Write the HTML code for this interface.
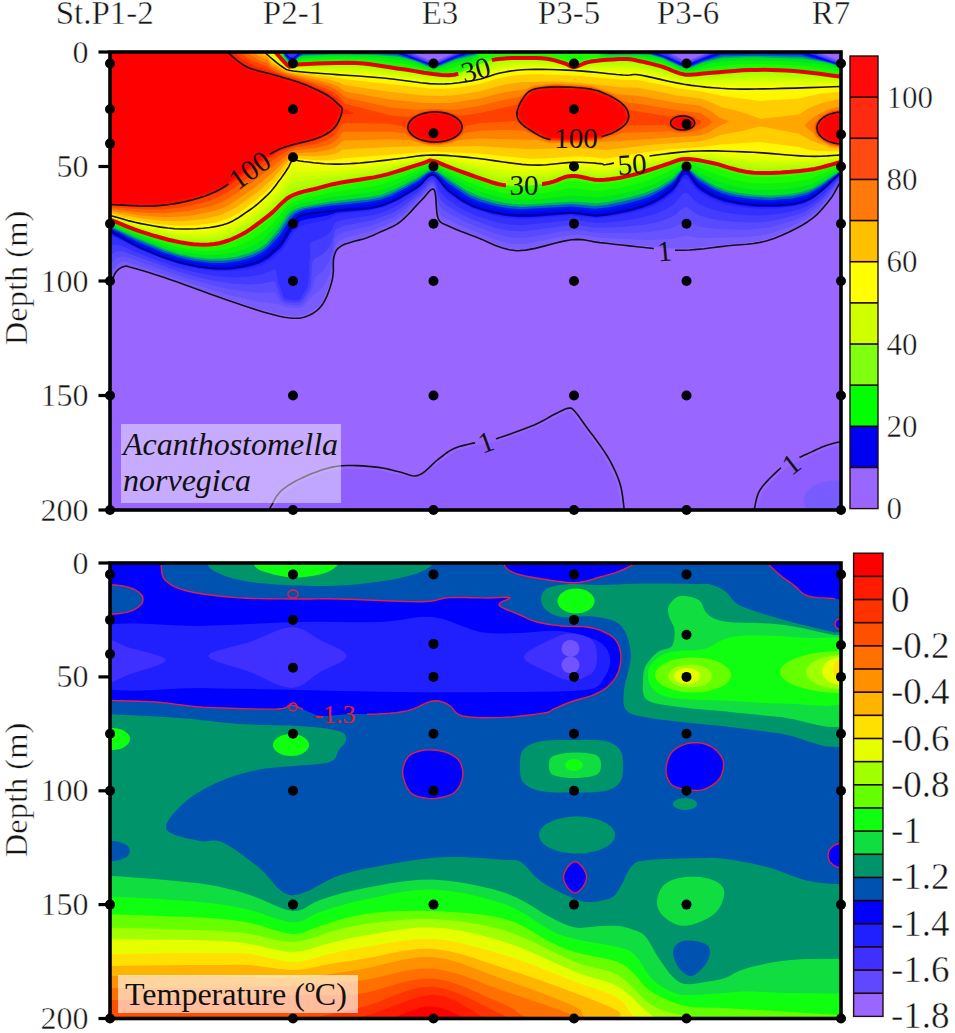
<!DOCTYPE html>
<html><head><meta charset="utf-8"><style>html,body{margin:0;padding:0;background:#fff;width:955px;height:1033px;overflow:hidden}</style></head><body>
<svg width="955" height="1033" viewBox="0 0 955 1033" style="position:absolute;left:0;top:0">
<defs><clipPath id="ct"><rect x="110" y="52" width="731" height="458"/></clipPath>
<clipPath id="cb"><rect x="110" y="563" width="731" height="455.5"/></clipPath></defs>
<g style="font-family:'Liberation Serif',serif;font-size:33px" fill="#151515" stroke="#fff" stroke-width="0.45">
<text x="104.7" y="23.5" text-anchor="middle">St.P1-2</text>
<text x="294" y="23.5" text-anchor="middle">P2-1</text>
<text x="440" y="23.5" text-anchor="middle">E3</text>
<text x="569" y="23.5" text-anchor="middle">P3-5</text>
<text x="688" y="23.5" text-anchor="middle">P3-6</text>
<text x="831" y="23.5" text-anchor="middle">R7</text>
</g>
<g clip-path="url(#ct)"><rect x="110" y="52" width="731" height="458" fill="#9966ff"/><path fill="#8e5eff" fill-rule="evenodd" d="M100 42L411.5 42 411.6 51 412.9 53 433 61.4 435.3 61 454 53 455.4 51 455.5 42 669.5 42 669.6 51 670.6 53 686 61.1 707 53 708.4 51 708.5 42 817.5 42 817.6 51 819 53 841.1 61 851 62.6 851 171.1 848 173 842 179 830.1 198 817 213.1 806.7 221 790.5 230 771 238 755 241.8 687 248.5 673 248.6 605.3 242 583 238.3 578 238.2 565 239.4 534.8 247 524 249 513 249 507 247.9 497.9 245 479 236.7 460.9 230 442 221.3 439 217.5 437.5 212 434.8 191 434 189 432 188.3 429 190.3 405 216 396.5 223 375.3 233 365 237 346 242.3 338 246.6 335.5 250 333.5 257 332.4 273 330 283.4 323 300.7 319 306 312.9 311 307.2 314 299 316.3 293 316.4 280 314.5 255.6 308 210.7 293 162 275.5 128 265.2 123 265.4 117 269 113.5 274 109 283 100 289.5ZM622.1 520L270 520 271 514.2 273 509 282.5 494 300 482 325.3 472 346 468.9 379 469.9 398 474.8 416 477.8 419 477.6 452.5 453 456.2 451 473.2 446 488 443.6 506 438.6 533 428.6 568 411.5 570 412 572.6 414 582 425.5 604 456.5 608 464 617 484.3 621 508.2ZM851 443L851 520 755 520 758 506.2 762 493.2 773 480.4 781.5 472 791 465 825.3 449Z"/><path fill="#785cff" fill-rule="evenodd" d="M100 42L411.5 42 411.6 51 412.9 53 433 61.4 435.3 61 454 53 455.4 51 455.5 42 669.5 42 669.6 51 670.6 53 686 61.1 707 53 708.4 51 708.5 42 817.5 42 817.6 51 819 53 841.1 61 851 62.6 851 171.1 848 173 842 179 830.1 198 817 213 806.7 221 790.5 230 770.9 238 755 241.8 687 248.4 673 248.6 605.5 242 583 238.3 578 238.2 565 239.4 534.7 247 524 249 513 249 507 247.9 498 245 479 236.7 461 230 442 221.3 439 217.5 437.5 212 434.8 191 434 189 432 188.3 429 190.3 405 216 396.5 223 375.3 233 365 237 346 242.3 338 246.6 335.5 250 333.5 257 332.4 273 330 283.3 323 300.7 319 306 312.8 311 307.1 314 299 316.2 293 316.4 280 314.4 255.7 308 210.8 293 162 275.5 128 265.2 123 265.4 117 268.9 113.5 274 109 282.9 100 289.4ZM805.1 494L812 486.6 822 482.1 829 480.7 840 480.6 851 482.9 851 517.1 841 519.4 829 519.4 822 517.9 814 514.6 807 509.3 805.1 507 803.6 500Z"/><path fill="#6753ff" fill-rule="evenodd" d="M100 42L410.9 42 411 51 412 53 433 62.5 435.6 62 454.9 53 455.9 51 456.1 42 668.9 42 669 51 670 53.3 686 62.2 707.9 53 708.9 51 709.1 42 816.9 42 817 51 819 53.8 840.7 62 851 63.6 851 170.5 847 173 841.1 179 831 194.8 821 206.7 814 213.3 807.3 218 792 225.8 774 232.4 760 235.7 743 237.2 704 238.1 697 237.7 686 235.8 670 239.3 644 239.9 601 237.7 583 235.1 575 234.7 563 236.2 528 243.6 518 244.3 510 243.6 497 240.1 466.5 228 454 222.4 442 215.9 440 213.7 438.5 210 435 189.3 434 187.4 432 186.6 429 188.5 406 212.4 396 220.2 372 230.7 346 237.7 338 241.7 336 244.2 334.4 249 330 273.4 325 284.1 320 290.3 312 296.5 305.1 305 302 307 299 307.7 293 307.8 284 306.7 277 303.7 257 301.4 231 295.4 202 286.8 126 261.5 122 261.9 117.5 264 109 275 100 279.8Z"/><path fill="#574aff" fill-rule="evenodd" d="M100 42L410.2 42 410.3 51 412 53.9 433 63.2 437.2 62 455 53.7 456.7 51 456.8 42 668.2 42 668.2 51 670 54.4 686 63 708 53.7 709.7 51 709.8 42 816.2 42 816.3 51 819 54.6 841 62.8 851 64.3 851 170 847.2 172 841.7 177 828 195.7 819 205.3 812 211.1 804 215.9 793 220.7 769 227.5 749 229.7 717 229 699 226.5 688 221.8 685 221.5 671.9 228 651 231.8 631 232.9 604 232.9 595 232.4 581 230.1 573 230 562 231.2 533 236.7 521 237.9 508 236.9 494 233.1 466 222.3 448 212.9 443 209.6 440 206.5 438 201.2 435.4 188 434 185 432 184.1 429 185.9 421 194.7 407 207.6 395 216.2 373 225.3 345 231.8 337.7 235 335 238.7 332 253.2 329 261.8 324 269.5 315 277.2 312.6 288 305 301 302 304 299 305.1 293 305.2 285 304.1 280.8 302 275 292.1 262 292.9 251 292.3 234 289.9 217 286.4 182 276.4 126 256.8 121 256.7 117 257.8 109 265.1 100 268.3Z"/><path fill="#443dff" fill-rule="evenodd" d="M100 42L286 42 286 50.2 287 51.4 292 52.3 298 51 298.5 42 401.5 42 402 50.6 409 51.9 413 55.4 433 63.8 436.4 63 454 55.1 458 51.7 463 50.6 463.5 42 653.5 42 654 50.5 667 52.3 671.6 57 686 63.7 707 55.1 711 51.7 716 50.6 716.5 42 805.5 42 806 50.6 814 51.6 819 55.4 840 63.1 851 64.8 851 169.5 847.5 171 842.5 175 826 194.8 819 201.8 812 207.3 805 211.4 797 214.7 777 219.9 764 221.9 753 222.5 738 222.1 721 220.6 710 218.5 699 215.2 695 213.1 688 207.7 685 207.1 682 208.5 675 215.1 670 217.8 658 221.9 644 224.8 624 226.8 601 227.8 593 227.4 580 225.3 571 225.2 522 231.6 509 230.8 496 227.9 473 219.8 459 213.1 447 205.7 441 200.5 438 194.8 435 183.7 434 182.2 432 181.4 429 183.1 420 192.7 408 202.8 400 208.7 393 212.7 373 220.3 345 225.5 337 228.5 335 230.8 331 244.2 328 248.9 323 254.1 315 258.5 313 260.6 312.1 264 310.5 286 308.2 291 302.6 300 300.3 302 298 302.7 286 301.7 283.7 301 281.8 299 276 284.3 274 280.9 261 283.7 249 284.4 232 283.4 214 280.8 197 276.9 177 271.1 123 251.4 117 251.3 110 254.9 100 256.7Z"/><path fill="#322fff" fill-rule="evenodd" d="M100 42L285 42 285.5 52 292 55.5 298 52.7 299.7 51 299.9 42 400.1 42 400.1 50 401 51.8 409 53.7 413 56.2 433 64.3 440 62 458 53.4 464 51.9 464.9 50 464.9 42 652.1 42 652.1 50 653 51.6 667 54.8 671.4 58 686 64.3 706 56.3 711 53.4 717 51.9 717.9 50 717.9 42 804.1 42 804.1 50 805.3 52 815 53.9 819 56.2 841 64 851 65.3 851 169 846.2 171 842.2 174 824 193.6 812 203.6 800 209.3 784 213.2 768 215.1 755 215.6 739 214.6 723 212.3 711 209 700 204.4 695.1 201 688 193.5 685 192.8 682 194.6 674 204.3 669 207.7 655.1 214 640 218.1 622 220.9 603 222.8 594 222.8 580 220.6 571 220.3 522 225.2 509 224.5 496 221.9 478 216.3 466 211.2 455 204.7 445 197.5 439 190.4 435 180.5 433 178.9 431 179 428 181.1 417 192.3 396 206.6 385 211.5 374 215 344 219.5 337.9 221 335 222.9 331 231.2 327 235 321 238.6 311 241.9 309.9 245 310.3 256 309.3 262 309.2 275 307.4 287 300.8 298 299 299.7 294 300.2 286 299 283.7 297 277.9 281 276.3 271 275 269.1 262 274.3 250 276.6 233 277.4 215 276 195 272.2 174 266.5 149 257.4 120 245.3 116 244.6 110 245.4 100 245.2Z"/><path fill="#2625ff" fill-rule="evenodd" d="M100 42L284.6 42 285 52.4 290 57 292 57.7 300.1 52 300.7 42 399.3 42 399.3 50 400 52 433 64.8 436.6 64 465 52.1 465.7 50 465.7 42 651.3 42 651.3 50 652.2 52 667 56.5 686 64.9 711 54.6 717 52.9 718.6 51 718.7 42 803.3 42 803.4 51 805 52.8 815 55.2 840 64.2 851 65.7 851 168.5 846.7 170 840.9 174 823 191.3 813 199.2 804 203.7 793 206.7 778 208.4 758 208.8 741 207.3 725 204.3 712.5 200 700 193.2 695.2 189 688 179.4 685 178.4 682 180.7 676 190.3 672 194.8 663.2 201 654 205.9 643 210 629 213.5 612 216.6 597 218.2 571 215.4 533 218.5 518 218.9 504 217.5 491 214.8 473 209 459 201.4 446.3 192 440.2 185 435.6 178 432 176.3 428.5 178 421 185.9 415 190.6 399 200.5 386 206.6 370 210.8 337 214.3 334 215.6 331 218.2 326 220.2 305 224.6 300 226.3 294 231.8 284.4 247 280.3 252 270 260.4 261 265.4 248 269.2 233 271.2 218 271.3 202 269.5 183 265.4 167 260.6 141 250.2 116 237.7 106 234.5 100 233.7Z"/><path fill="#0001eb" fill-rule="evenodd" d="M100 42L284.5 42 285 52.7 289.5 57 292 58.1 294 57.3 300.4 52 300.9 42 399.1 42 399.1 50 400 52.3 433 64.9 436.9 64 465 52.3 465.9 50 465.9 42 651.1 42 651.1 50 652 52.1 666 56.4 686 65 718 52.4 718.9 50 718.9 42 803.1 42 803.2 51 805 53 815 55.6 840 64.3 851 65.8 851 168.4 846.4 170 841.8 173 823 190.5 813 198.3 804 202.7 794 205.3 779 206.9 757 206.9 741 205.3 724 201.8 711 196.7 700 190.2 695 185.5 688 175.6 685 174.4 682 177.2 676 187.2 672 191.8 663 198.5 654 203.6 644 207.6 630 211.5 611 215.3 597 216.9 571 214.1 533 216.9 518 217.2 504 215.8 491 213.3 473 207.6 461 201.2 447 191 436 177.6 434 176.1 432 175.7 428.9 177 420 186.1 412 191.7 397 200.4 383 206.5 368 209.7 337 212.4 327 215.7 305 219.4 300 221.2 294 226.9 283.6 244 279.6 249 269 258.2 259 263.8 246 267.6 230 269.8 215 269.8 198 267.7 179 263.5 161 257.5 139 248.4 109.5 233 100 230.5Z"/><path fill="#000aee" fill-rule="evenodd" d="M100 42L284.1 42 284.2 51 285 53.5 289 57.7 292 59.2 294 58.3 301.1 52 301.8 50 301.8 42 398.2 42 398.3 51 399.9 53 433 65.3 437 64.4 465 53.1 466.7 51 466.8 42 650.2 42 650.2 50 652 52.7 664 56.4 686 65.5 718 53.3 719.7 51 719.8 42 802.2 42 802.3 51 805 53.8 841 65 851 66.1 851 168 847 169.2 842.2 172 820 191.2 809 198.4 795 202.6 775 204.3 761 204.2 745 202.8 732 200.5 721 197.4 710 192.4 699 185.4 694.6 181 688.1 172 685 170.8 682 173.6 676.2 183 672 187.8 663 194.6 653 200.4 641 205.2 626 209.3 609 212.7 596 214.2 571 211.5 519 214.2 507 213.2 491 210.4 475 205.5 463 199.5 447 187.8 436.2 176 432 174.4 428.3 176 420 184.2 412 189.5 396 198.5 382 204.3 367 207.1 341 208.9 307 213.3 300.7 215 297 217.5 293.9 221 289 228.1 282.3 240 277 246.3 267 255.3 256 261.2 241 265.4 227 267.3 214 267.3 198 265.5 179 261.4 158 254.3 137 245.3 109.3 230 104.5 228 100 227.2Z"/><path fill="#0014f0" fill-rule="evenodd" d="M100 42L283.8 42 283.8 51 284.8 54 289 58.9 292 60.3 294 59.4 302 52.6 304 52.1 396 52.3 433 65.8 439 64.3 468 52.5 476 51.6 476.7 50 476.7 42 601.3 42 601.3 50 602 51.3 649 51.9 665 57.5 686 66.2 716 55.4 721 52.8 801 52.8 806 55.2 830 61.8 840 65.2 851 66.6 851 167.4 846.1 169 841.1 172 820 189.3 808 196.6 793 200.6 773 202 759 201.8 745 200.5 732 198.2 721 195.1 711 190.5 700 183.7 696 180.3 688.5 171 685 169.7 681.9 172 676 180.9 672 185.3 662 192.6 652 198.1 641 202.4 626 206.5 608 210.1 596 211.4 571 209 520 211.7 507 210.6 493 208.1 478 203.8 467 198.9 448 185.9 437 175 434 173.3 431 173.2 428 174.7 420 182.1 415 185.4 396 196 382 201.7 368 204.5 327 208.4 306 211.4 300 213.2 296 215.8 292.1 220 281 237.5 273 246.6 264 254.2 255 258.8 242 262.7 227 265 213 265.1 197 263.3 178 259.2 160 253.1 137 243.3 108.1 228 100 225.8Z"/><path fill="#005ac8" fill-rule="evenodd" d="M100 42L283.5 42 283.5 51 284.7 55 289 59.9 292 61.3 300 54.9 304 53.6 346 52.9 387 53.4 398 54.1 433 66.3 438 65.3 454 58.8 467 54.4 476 53.1 477.5 51 477.6 42 600.4 42 600.6 51 602 52.5 611 53.2 650 53.3 664 57.7 680 64.9 686 66.8 691 65.8 703 60.7 721 54.8 750 54.2 801 54.8 829 62 841 66 851 67 851 166.8 846 168.4 841.5 171 820 187.6 808 194.4 792 198.4 771 199.9 758 199.6 745 198.3 732 196 722 193.2 712 188.7 700 181.5 696 178.3 689 170.3 685 168.9 681.8 171 675 180.2 671 184 661 190.7 651 195.9 640 200 624 204.2 607 207.5 595 208.8 571 206.5 521 209.3 508 208.3 495 206 480 201.8 469 197.2 448 183.2 437 173.5 434 172.1 431 172 427.1 174 418 181.5 392 195.4 381 199.6 368 202.1 329 206 306 209.6 299 211.7 295 214.2 290 219.2 279.9 235 270 246.1 262 252.6 253 256.9 239 260.9 225 262.9 211 262.9 195 261 178 257.3 162 251.9 137 241.5 109 227.3 100 224.8Z"/><path fill="#00aa6e" fill-rule="evenodd" d="M100 42L283.2 42 283.2 51 284.3 55 288 60 292 62.2 299 56.5 304 54.7 335 53.9 378 54.2 398 55.4 414 60 428 65.7 433 66.9 440 65.4 456 58.8 476 54.1 478.1 51 478.2 42 599.8 42 599.9 51 602 53.3 611 54.1 636 53.6 650 54.2 663.4 58 680 65.7 686 67.5 692 66.3 705 61 722 56.6 754 55.7 802 56.8 826.6 62 841 66.6 851 67.6 851 166.2 843 169.4 820 185.8 808 192.2 792 196.1 770 197.7 746 196.2 733 194 723 191.3 715 188 697 177.2 689 169.3 685 168.2 681.7 170 675 178.3 671 181.7 660 188.7 650 193.7 639 197.5 623 201.6 606 204.9 595 206.1 571 204.1 522 206.9 510 206 497 203.9 482 199.8 470 195 448 180.6 438 172.7 434 170.9 431 170.9 427 172.7 418 179.4 402 188.1 390 193.9 381 197.2 368 199.7 330 203.7 305 208 298 210.1 293.1 213 288.8 217 279 232.2 267.8 245 261 250.4 252 254.7 238 258.7 224 260.8 210 260.8 195 259 179 255.6 165 251.1 137 239.6 109 226.2 100 223.7Z"/><path fill="#00e61e" fill-rule="evenodd" d="M100 42L282.9 42 282.9 51 284 55.6 287 59.9 291 62.9 293 62.7 300 56.8 305 55.8 331 54.8 372.7 55 398 56.8 414.7 61 428 66.4 433 67.6 440 66.2 455.4 60 476 55.2 478.4 52 478.6 42 599.4 42 599.7 52 602 54.1 611 55 636 54.4 650 55.1 661.6 58 680 66.6 686 68.3 691 67.7 702.1 63 721 58.6 732 57.7 755 57.2 802 58.7 817.7 61 831.4 64 841 67.3 851 68.2 851 165.5 842 169.2 823 182.1 812 188.3 801 192 788 194.3 772 195.4 757 195.1 740 193.1 727 190.3 718 187.1 710 183 697 175.1 689 168.3 686 167.3 682 168.7 672 178.8 657 187.7 644.5 193 626 198.1 609 201.7 597 203.3 571 201.6 526 204.4 515 204 503 202.5 491.8 200 478.9 196 466 190 438 171.2 434 169.7 431 169.7 428 170.7 418 177.3 399.5 187 381 194.7 369 197.1 330 201.6 303 206.5 295.3 209 291 211.5 287.3 215 278 229.6 266.6 243 259 248.7 249.3 253 235 256.9 223 258.6 210 258.7 194 256.9 180 254 166 249.6 136 237.4 109 225.1 100 222.7Z"/><path fill="#0cf20c" fill-rule="evenodd" d="M100 42L282.2 42 282.3 52 283.8 57 287.7 62 291 63.9 294 63.1 299 59 306 57.7 334 56.6 366 56.8 385 58 403 60.4 414.9 63 427 67.6 433 68.9 441 67.8 454.9 63 471 59.5 476 57.5 479.3 52 479.4 42 598.6 42 598.8 52 600 54.2 602 55.5 611 56.2 636 55.8 653 57.4 663.2 60 679 67.7 686 69.8 691 69.4 707.7 64 724 61.6 740 60.5 792 61.3 826.9 65 842 69.2 851 69.9 851 164.3 842 167.7 822 179.1 812 183.7 801 186.9 787 189.1 773 190.1 759 190 746 188.7 733 186.3 716 180.8 698 171.8 690 166.8 686 165.6 682 166.7 671 175.3 653 184.4 639 189.3 619 194.3 598 197.5 571 195.5 541 198.9 524 199.8 513 199.3 503 198 481 192.1 467 186.1 439 169.3 435 167.8 431 167.5 428 168.4 397 183.9 381 190 368 192.6 331 197.2 302 203.1 294 205.6 287 210.3 277 224.7 265 238.1 256.4 244 244 249.5 231 253.1 219 254.8 206 254.9 191 253.1 178 250.4 165 246.3 137 235.6 109 223.5 100 221.2Z"/><path fill="#1cfb00" fill-rule="evenodd" d="M100 42L280.9 42 280.9 51 283.3 58 286 61.7 290 64.7 293 64.5 299 61 306 60.1 335 59 361 59.1 378 60.4 401 63.4 414 65.8 429 70.1 435 70.8 442 70.2 452.2 68 476 60.6 478 58.6 481 52 484 48 484 42 594 42 594 48 601 56.9 608 57.5 632 57.1 651 59.5 663 62.5 679 69.7 686 71.5 691 71.4 704 68 723 65.5 741 64.2 760 63.9 804 65.8 827 68.7 842 71.9 851 72.5 851 162.8 842 165.5 821 175.1 809 179.2 789 182.5 767 183.7 750 182.9 733 179.7 717 174.8 690 163.9 685 163.2 681 164.5 669 171.6 651 179.3 635 184.4 617 188.5 597 190.9 577 188.4 570 188.3 545 192.9 522 194.6 505 193.5 486 188.7 468 181.9 438 166.5 434 165.2 430 165.1 398 178.8 381 184.7 369 187.1 333 192.1 302 199 294 201.5 287 206 273 222.9 263 232.3 250.9 240 237 246.1 226 249.3 215 250.8 203 250.9 189 249.4 176 246.7 162 242.5 136 233.2 109 221.9 100 219.7Z"/><path fill="#35fe00" fill-rule="evenodd" d="M100 42L279.1 42 279.2 51 280 54.5 284 61.1 290 65.7 293 65.4 298 63.2 337 61.4 359 61.5 374 62.9 400 66.6 429 72.1 437 73 449 72.6 459 70.6 477 63.3 481 59.2 488 57.5 502 56 527 55.5 551 56.5 573 60.9 596 57.3 602 59.1 633 58.8 659 64 679 71.8 687 73.5 733 68.5 766 67.5 799 69 842 74.8 851 75.2 851 161.2 842.5 163 821 170.5 809 173.6 787 176.3 764 177.3 752 176.8 741 175.1 693 161.7 685 160.7 680 161.8 668 167.1 644 175.7 616 182.6 597 184.3 578 181.2 571 180.9 565 181.8 553 185.7 545 187.3 531 189.1 518 189.5 505 188.6 490 185 469 177.6 437.8 164 430 162.5 398 174.2 382 179.1 335 186.9 295 197 286.5 202 271 218.1 258 228.6 244.5 237 230 243.2 220 245.9 210 247.1 199 247 186 245.5 173 242.9 156 238 135.3 231 109 220.3 100 218.2Z"/><path fill="#a1ff00" fill-rule="evenodd" d="M100 42L278.5 42 278.6 52 280 56.9 284.8 63 290 66.4 302 64.3 336 63.1 357 63.3 374.6 65 429 73.6 442 74.9 451 74.8 458 73.5 482 63.2 493 59.9 506 58.3 526 57.9 542 58.3 551 59.3 574 65.9 588 61.8 596 60.7 631.1 60 655.3 65 679 73.4 687 74.9 740 70.7 768 70.1 796 71.3 841 76.6 851 77 851 160.2 841 161.9 822 167.4 811 169.7 786 172.2 764 173.1 745 171.6 706.4 162 692 159.5 684 159.2 679 160.1 638 173.6 615 178.8 598 180.1 577 176.5 571 176.3 566 177.1 553 181.8 545 183.6 531 185.5 516 186.1 504 185.1 491.4 182 437 162.2 430 160.9 382 175.7 335 183.6 295 193.8 286 199.1 270 214.4 253 227.5 241 234.8 227 240.9 218 243.3 208 244.4 197 244.3 184 242.8 169.9 240 151.9 235 134 229.2 108.1 219 100 217.3Z"/><path fill="#b4ff00" fill-rule="evenodd" d="M100 42L277.9 42 278 52 279.5 58 284.7 64 290 67.2 300 65.9 339 65.3 359 65.8 443 76.8 451 76.7 458 75.6 486 65 496 62.3 511 60.7 529 60.2 551 61.5 574 67.4 594 63.3 617 62.3 632 62.6 653.4 67 679 75.2 688 76.8 745 74 771 73.7 798 74.7 841 78.6 851 78.8 851 159.1 842 160.3 821 165.2 810 167 787 168.6 765 169 746 167.8 709 160 694 157.9 684 157.7 677 159 634 171.5 612 176 597 176.6 578 173.6 571 173.3 565 174.3 546 179.7 533 181.3 520 181.7 508 181.2 496 178.9 438 161 430 159.6 380 173 335 179.8 294 187.7 287 192.9 272 208.2 259 218.9 246 228.1 233.1 235 222 239 210 241 196 241.3 180 239.6 165 236.6 144 230.9 110 218.7 100 216.4Z"/><path fill="#c5ff00" fill-rule="evenodd" d="M100 42L277.2 42 277.3 52 279 58.4 282.6 63 289 67.6 325 66.9 360 67.8 441 78.1 450 78.1 458 77 489 66.3 498 64.1 514 62.4 531 61.9 551 63 574 68.1 594 65 634 65 657 69.9 680 77 689 78.4 775 76.5 851 80.2 851 158.3 841 159.4 811 164.9 770 166.1 748 165.1 711 158.6 695 156.7 685 156.5 677 157.7 632 169.7 610 173.9 598 174.2 578 171.4 571 171.2 548 176.6 526 178.5 511 178 499 176.2 438 159.9 429 158.9 377 171.3 294 182.4 291 184.4 271.8 205 262 213.5 247 224.5 233 232.4 222 236.4 209 238.6 194 238.8 177 237.2 161 234 142 229.1 109.7 218 100 215.8Z"/><path fill="#d5ff00" fill-rule="evenodd" d="M100 42L273.5 42 273.5 48 276 51.6 279 60 283.9 65 289 68.2 361 69.8 439 79.3 449 79.5 458 78.4 499 66.1 515 64.2 533 63.7 552 64.6 574 68.7 593 66.7 635 67.3 655 71.4 680 78.5 690 80 782 79.4 851 81.5 851 157.6 841 158.4 812 162.9 781 163.4 750 162.2 710 156.7 695 155.4 685 155.4 677 156.5 630 167.8 608 171.9 604 172.2 572 169.2 548 173.8 528 175.3 514 174.8 502 173.3 439.1 159 429 158 391 166.4 371 169.9 320 175.4 294 177.1 291 179.3 273 200.4 264 208.7 249 220.3 233 229.7 221 234 208 236.1 192 236.5 174 234.8 141 227.6 110 217.4 100 215.2Z"/><path fill="#e4ff00" fill-rule="evenodd" d="M100 42L269.7 42 269.7 51 270.4 53 276 55.4 280 62.7 286 67.4 289 68.9 364 71.9 438 80.7 449 80.7 459 79.5 494 69.4 502 67.7 518 65.8 535 65.4 553 66.2 574 69.4 591 68.3 635 69.5 651 72.5 680 80.1 693 81.7 723 82.6 789 82.1 851 82.9 851 156.8 816 160.6 795 161.1 753 159.4 712 155.1 687 154.2 676 155.5 607 169.7 572 167.1 548 171 530 172.2 504 170.2 442 158.3 430 157 385 165.4 362 168.6 324 171.6 294 171.9 291 174.2 273.8 196 265.8 204 251 216 233 227 221 231.4 207 233.7 189 234.1 170 232.4 139 225.9 109 216.5 100 214.5Z"/><path fill="#f3ff00" fill-rule="evenodd" d="M100 42L268.9 42 269 51 270 54.5 276 58.4 280.2 64 286 68.3 289 69.6 368 74.2 436 82 449 82.1 460 80.8 479 76.5 496.3 71 508 68.8 521 67.5 537 67.1 555 67.9 574 70.1 589 69.8 624 71.8 636 71.7 648 73.8 683 82.2 710 84.6 740 85.4 851 84.3 851 155.9 818 158.7 803 159 749 156.1 714 153.4 689 152.9 679 153.8 656 157.6 606 167.5 573 165.1 547 168.3 532 169.1 509 167.4 455 158.7 430 156.1 379 164.1 351 167.1 323 168.2 294 166.6 292 167.9 274.3 192 267 199.7 252 212.3 233 224.3 221 228.8 205 231.4 185 231.8 166 230 137 224.2 109 215.8 100 213.9Z"/><path fill="#fff700" fill-rule="evenodd" d="M100 42L268.3 42 268.4 52 270 56.5 279.8 65 286 69.2 289 70.4 375.7 77 433 83.7 448 83.8 460 82.6 480 78.6 497.8 73 508.2 71 521 69.6 538 69.1 591 71.7 624 74.4 636 74.1 685 84.3 721 87.7 752 88.3 851 86 851 154.7 808 156.7 725 151.7 691 151.3 677 152.5 654 155.8 606 165 588 163.2 574 162.7 536 166 518.3 165 470 158.3 432 154.8 422 155.5 366.9 163 344 164.7 321 164.6 294 161.4 292 162.8 286 172.5 275 187.4 267.3 196 252.3 209 232 222 220 226.3 203 229 182 229.5 164.9 228 137.6 223 108 214.6 100 213.1Z"/><path fill="#ffcd00" fill-rule="evenodd" d="M100 42L264 42 264.3 51 265 51.9 267 50.7 271 60 283 68.5 289 71.3 331 76.5 345 79.2 430 88.5 444 88.8 459 87.6 479 84.2 497 78.7 510 76.1 523 74.7 540 74.3 578 75.8 624 80 638 80 678 88.2 702 91.6 721 95.8 760 100.9 799 98.5 821 93.6 851 91 851 151.8 818 151.1 809 149.7 799 147 760 142.1 721 144.5 702 146.9 667 149.6 649 151.7 605 158.8 591 157.1 576 156.5 544 158.6 530 158.7 479 153.5 433 151.5 343 158.2 330 160.4 313 160 294 157.9 292 159.1 286 168.2 275 182.4 266 191.9 252 203.6 238.4 213 230 217.7 216 222.5 197 225.2 177 225.8 155 223.8 133.5 220 100 212Z"/><path fill="#ffa600" fill-rule="evenodd" d="M100 42L258 42 258 50 258.7 52 264 55.4 267 55.3 271 62.3 288 72.2 330 79.8 339 82.4 345 85.3 391 91.9 424 95.4 442 96.1 459 94.8 480 91.3 503 84.9 520 82.3 553 81.6 580 82.8 620 87.2 638 87.8 677 95.4 700 98.5 710.3 102 721 107.1 741.3 112 761 118.9 799 114.4 810 107.6 821 103.3 840 98.9 851 98.4 851 148.3 838 148.4 831 147.4 811.8 141 799 133.7 760 126.2 743 130.7 721 134.8 711 138.6 701 141.2 654 144.6 607 150.1 576 147.8 530 149.3 476 145.9 441 146.9 420 146.2 390 146.9 343 149.4 336 153.4 327 155.4 314 156.2 293 155.6 273 178.6 259 191.1 236 207.5 221 214.9 204 219 182 221.3 164 221 143 218.7 100 210.6Z"/><path fill="#ff8100" fill-rule="evenodd" d="M100 209.1L100 42 252 42 252.2 51 253.6 53 264 58.8 267 58.7 271 64.7 286 72.8 329.2 83 338 86.4 345 91.4 391 99.8 424 102.9 450 103 480 98.5 504 92.2 526 89.2 531 86.6 536 85.5 554 83.6 580 84.7 592 86 617 94.3 638 95.7 676 102.7 700 105.7 710.8 111 720 117.9 728.2 121 728.8 122 720 125.4 709 132.2 700 135.5 619 140.9 590 142 578 143.6 548 142.7 538 140 482 138.4 461 139.7 448 144.1 440 145.3 429 145.2 410 140.3 391 139.2 343 140.6 336 147 328 150.1 315 152.2 293 153 272 173.3 253 188.7 229 204.9 221 208.7 212 211.6 189 215.9 165 217.2 140 215.2ZM851 146.9L837 147 831 145.9 824 142.7 815.9 137 813 132.9 805.9 127 804.9 125 805.4 124 815 116.1 829 109.3 841 106.1 851 105.8Z"/><path fill="#ff6000" fill-rule="evenodd" d="M100 207.8L100 42 246 42 246.1 51 247.4 53 258 59.5 265 62.5 267 62.3 271 67 283.2 73 329 86.3 338.3 91 345 97.5 391 107.6 418 110 431 108.8 441 108.9 450 110 457 109.4 480 105.8 502 100.2 519 97.1 523 94.8 530 88.7 536 86.7 553 84.7 562 84.7 566 85.5 580 85.7 592 87.1 612 94.3 626 102.4 639 103.7 677 110.2 700 112.9 708.4 118 712.2 122 709.2 125 701.9 129 687 132.8 679 132.8 670 131.2 622 132.9 601 139.4 577 142.4 563 142.4 559 141.5 548 141.3 525 131 522 130.4 504 130 481 130.7 466 132.6 457.2 139 452 141.6 440 144.3 430 144.3 424 143.2 412 138.3 405 133.5 392 131.7 343 131.8 336 140.5 328 145 315.9 148 294 150.2 292 150.9 258 177.9 235 194.3 223 201.5 211 206.1 187 211.3 164 213.3 142 212.4ZM815.5 122L822 115.4 831 110.8 838 109.3 851 109.6 851 145.9 837 146.1 831 144.9 823 140.9 817 136.2 815.6 134 814 127Z"/><path fill="#ff4100" fill-rule="evenodd" d="M100 206.7L100 42 240 42 240.5 52 246 56.8 254 61.5 264 65.5 267 65.9 271 69.4 285 75.2 310 82.5 328 89.2 338 95.2 345 103.7 391 115.5 409 116.9 423 111.7 431 110.3 441 110.3 447 111.4 460 116.1 480 113.1 516 105 521.6 98 532 88.7 553 85.5 561 85.5 566 86.4 580 86.5 594 88.6 612.9 96 626 105.4 630 110.3 670 116.6 679 114.2 687 114.3 693 116.5 697 119.3 701 120.7 701.9 122 701 123.2 698 124.5 693 129.2 686 131.6 680 131.6 676 130.6 671 128.3 667 125.1 628 125.4 625 126.5 617 132.3 601 138.4 576 141.5 564 141.5 559 140.6 548 140.3 530 131.7 515 121.1 481 123 466 125.9 465 126.7 462.1 133 456.9 138 448 142 439 143.5 430 143.5 419 140.5 410.8 136 407.9 133 405 127.3 403 126.3 389 123.7 344 122.9 342 123.7 336 134.1 330 138.8 317 143.7 294 147.8 290.7 149 274.5 159 229 191.5 220 196.6 210 200.7 186 206.7 163 209.4 146 209.5ZM817 122L823 116.1 832 111.6 839 110.4 851 110.9 851 144.9 837 145.3 831 144 823.2 140 816.7 134 815.3 127Z"/><path fill="#ff2300" fill-rule="evenodd" d="M100 205.7L100 42 234 42 234.4 52 239 56.7 246.6 62 255 66 267 69.4 277.5 74 304 82.3 325 90.9 332 94.9 338 99.6 344 109.1 353.6 113 353.4 114 345 114.1 343 114.7 336 128.3 328 134.7 316 140.5 294 146.1 280.1 151 248.9 171 223 189.9 210 195.5 187 202.5 156 207.2ZM515.2 113L521.5 100 531.5 90 537 88.4 553 86.4 561 86.4 566 87.3 579 87.4 590 88.4 610.9 96 625.8 107 629.9 118 628.5 121 618.7 130 601 137.4 578 140.6 564 140.6 559 139.7 548 139.3 530 130.5 520.1 123ZM407.1 125L408.7 121 412.1 118 420 113.9 430 111.4 440 111.3 447 112.6 456 116.4 461.6 121 462.9 127 460.7 133 456.6 137 451 140 441 142.5 431 142.6 421 140.4 412.4 136 408.6 132 407.2 128ZM818 122.4L823.4 117 832 112.6 839 111.4 851 112 851 143.9 838 144.5 831.1 143 824 139.4 817.7 134 816.3 128ZM669.8 122L670.7 120 675 116.8 680 115.3 685 115.3 692 117.5 694.6 120 695.9 123 694 126.8 691 129 686 130.6 681 130.7 676 129.4 672 127.4 670.3 125Z"/><path fill="#ff0a00" fill-rule="evenodd" d="M100 204.5L100 42 229.7 42 230 53.1 232.5 56 245 65.3 256 69.5 301.1 83 323.2 93 329.7 97 338 103.8 341 109.2 341.3 112 335 126 328 131.5 316 138.3 279 149.4 250 167.6 222 188.2 218 190.3 186 200.6 156 205.5ZM517.6 113L523 100.1 532.2 91 537 89.7 553 87.7 561 87.6 565 88.5 579 88.6 590 89.7 610.2 97 624.9 108 627.4 119 617.9 129 601 136.1 577 139.4 564 139.4 560 138.5 548 138.1 531.8 130 521 122ZM408.6 126L410 122.2 413.2 119 420.8 115 430 112.7 439 112.5 447.3 114 455 117.4 460 122 461.5 127 459.1 133 455.9 136 447 140.1 441 141.3 432 141.5 423.7 140 413.1 135 410 131.8ZM819 123.2L824.1 118 832 113.9 839 112.6 847 112.6 851 113.4 851 142.6 847 143.4 838 143.3 832 142.1 824.1 138 818.7 133 817.6 128ZM671.6 122L673 119.9 676 117.9 680 116.7 685 116.6 691 118.6 693.4 121 694.2 123 693 126 690.2 128 686 129.3 681 129.4 676 128.1 673 126.4 671.9 125Z"/><path fill="#ff0000" fill-rule="evenodd" d="M100 202.9L100 42 228.9 42 229 53 230 56.7 244 67.7 248 69.7 303 85.8 327 98.4 335.7 105 338.7 110 338.6 113 333.1 125 327 129.6 315 136.5 281 146.3 277 148.2 247 167.2 221 186.5 217 188.6 189 197.8 155 203.8ZM519.8 113L524 101.8 533 92.6 538 91.2 560 89.1 565 90.1 578 90.1 589 91.2 610 98.9 623.3 109 625.1 118 624 120.6 616.2 128 600 134.5 576 137.9 565 137.9 560 136.9 549 136.5 531.8 128 522.6 121ZM410.4 127L412 123 416.7 119 425 115.5 435 114.1 445 115.2 452.3 118 458.3 123 459.6 127 458.4 131 454 135.1 446 138.5 436 139.9 425 138.5 416.7 135 412 131.5ZM820.6 124L825 119.5 833 115.5 841 114.1 851 115 851 141 846 141.9 839 141.8 833 140.5 825.8 137 820.4 132 819.4 128ZM673.4 123L676 119.9 683 118.1 689 119.5 692.1 123 691.4 125 690 126.1 683 127.9 675.8 126 674 124.6Z"/><mask id="tmr" maskUnits="userSpaceOnUse" x="0" y="0" width="955" height="1033"><rect x="0" y="0" width="955" height="1033" fill="#fff"/><rect x="457.5" y="56.5" width="36" height="24" transform="rotate(-15 475.5 68.5)" fill="#000"/><rect x="506" y="171.5" width="36" height="24" transform="rotate(0 524 183.5)" fill="#000"/></mask><mask id="tmb" maskUnits="userSpaceOnUse" x="0" y="0" width="955" height="1033"><rect x="0" y="0" width="955" height="1033" fill="#fff"/><rect x="223.5" y="157" width="51" height="24" transform="rotate(-36 249 169)" fill="#000"/><rect x="550.5" y="125" width="51" height="24" transform="rotate(0 576 137)" fill="#000"/><rect x="614" y="151" width="36" height="24" transform="rotate(-4 632 163)" fill="#000"/><rect x="654" y="238" width="21" height="24" transform="rotate(-5 664.5 250)" fill="#000"/><rect x="475" y="429" width="21" height="24" transform="rotate(-20 485.5 441)" fill="#000"/><rect x="780" y="451" width="21" height="24" transform="rotate(-38 790.5 463)" fill="#000"/></mask><g fill="none" stroke-linejoin="round" stroke-linecap="round"><g mask="url(#tmr)" stroke="#e80000" stroke-width="4"><path d="M272 48L272.5 48.6 273 49.2 273.4 49.7 273.9 50.4 274.7 51.2 275.8 52.5 277.4 54.4 279.5 56.8 281.8 59.4 284.2 62 286.3 64.2 288 65.7 289.2 66.5 290.1 66.7 290.7 66.5 291.3 66.1 292 65.7 293 65.5 293.7 65.4 293.9 65.2 294.3 65 295.3 64.7 297.6 64.5 301.7 64.3 308.3 64 316.9 63.6 326.8 63.2 337.2 62.9 347.2 62.8 356 63 363.5 63.5 370.3 64.3 376.7 65.2 383 66.2 389.7 67.3 397 68.4 405.3 69.6 414.5 71.1 423.9 72.7 433.1 74 441.5 74.9 448.7 75.2 454.3 74.7 458.8 73.6 462.5 72 465.9 70.3 469.2 68.5 473 67 476.9 65.6 480.6 64 484.3 62.5 488.3 61.1 492.7 59.9 498 59 504.5 58.4 512 58 520 57.9 528.1 57.9 535.5 58 541.7 58.3 546.7 58.8 551 59.5 554.7 60.4 557.9 61.3 560.8 62.2 563.5 63 565.9 63.8 567.7 64.7 569.2 65.6 570.7 66.4 572.3 66.9 574.3 67 576.5 66.6 578.7 65.8 581.1 64.7 583.8 63.5 587 62.4 590.7 61.6 595.4 60.9 601 60.3 607 59.8 613.1 59.4 618.7 59.1 623.4 59 627 59.1 629.9 59.3 632.4 59.6 634.7 60 637.1 60.6 640 61.2 643.4 61.9 646.9 62.7 650.7 63.6 654.5 64.6 658.3 65.6 662 66.7 665.7 68 669.3 69.4 673 71 676.7 72.4 680.3 73.6 684 74.4 687.4 74.8 690.5 74.8 693.6 74.5 697 74.2 701.1 73.7 706 73.3 712.1 72.8 719 72.2 726.6 71.5 734.5 70.9 742.4 70.3 750 70 757.3 69.9 764.6 69.8 771.8 69.9 779.1 70.2 786.5 70.5 794 71 802.1 71.7 810.8 72.7 819.6 73.8 828 74.9 835.3 75.9 841 76.6 844.8 77 847.1 77.1 848.3 77.1 849 77.1 849.8 77 851 77"/><path d="M100 217L101.4 217.3 102.6 217.5 103.7 217.6 105.1 217.9 107.1 218.5 110 219.5 113.8 221 118.4 222.9 123.6 225.1 129.2 227.4 135 229.6 141 231.7 147.3 233.7 154.1 235.8 161.3 237.8 168.4 239.7 175.3 241.3 181.7 242.6 187.7 243.5 193.4 244.2 198.8 244.6 204.1 244.7 209.3 244.5 214.3 244 219.2 243.2 223.8 242 228.3 240.5 232.7 238.8 237.1 236.8 241.6 234.5 246.2 231.9 250.9 228.8 255.5 225.5 260.1 222.1 264.6 218.7 268.8 215.4 272.7 212.1 276.3 208.6 279.7 205.2 283.1 201.9 286.7 198.8 290.6 196.3 294.9 194.3 299.5 192.7 304.2 191.4 308.9 190.3 313.5 189.3 317.8 188.2 321.6 187.1 324.9 186.2 328.1 185.4 331.4 184.5 335.3 183.7 340 182.7 345.7 181.7 352.2 180.7 359.2 179.7 366.5 178.6 373.8 177.4 380.8 175.9 388 174.1 395.5 171.9 403.1 169.5 410.3 167.2 416.6 165.2 421.7 163.6 425.1 162.5 427.2 161.6 428.3 161 429.3 160.6 430.5 160.6 432.6 160.9 435.3 161.5 438.2 162.5 441.4 163.8 445 165.4 449.3 167.1 454.3 169 460.5 171.3 467.9 174 475.9 176.9 483.9 179.7 491.5 182.2 498 184 503.4 185.1 508 185.8 512.1 186.1 516 186.2 519.9 186.1 524 186 528.3 185.8 532.7 185.4 537.1 184.9 541.4 184.3 545.6 183.5 549.6 182.7 553.4 181.6 556.9 180.3 560.3 178.8 563.8 177.5 567.4 176.4 571.4 175.9 575.7 176.1 580.3 176.8 585.1 177.8 590.1 178.9 595 179.7 600 180 605 179.8 609.9 179.3 615 178.6 620.1 177.7 625.4 176.6 630.8 175.4 636.6 173.9 642.8 172 649.1 170 655.3 168 661 166.1 666 164.5 670 163.2 673.3 161.9 676.1 160.8 678.9 159.9 681.8 159.3 685.3 159 689.2 159.1 693.3 159.4 697.5 160 702.1 160.9 707.1 161.9 712.5 163 718.4 164.4 724.6 166.3 731.2 168.3 738.3 170.2 745.6 171.7 753.4 172.7 761.9 173 771.3 172.9 781.1 172.5 790.7 171.8 799.8 170.9 807.8 170 814.8 168.9 821.3 167.4 827.2 165.8 832.4 164.3 837.1 162.9 841 161.8 844 161.1 846.1 160.7 847.5 160.5 848.5 160.4 849.6 160.2 851 160"/></g><path d="M100 227L101.4 227.4 102.6 227.6 103.7 227.8 105.1 228.2 107.1 229 110 230.4 113.8 232.5 118.4 235.3 123.6 238.5 129.2 241.8 135 245.1 141 248 147.2 250.8 153.8 253.5 160.7 256.3 167.8 258.8 174.8 261.1 181.7 263 188.6 264.6 195.5 266 202.4 267.1 209.3 267.9 216 268.4 222.5 268.5 228.9 268.2 235.2 267.5 241.4 266.5 247.4 265.1 252.9 263.5 258 261.7 262.5 259.5 266.7 257 270.4 254.2 273.8 251.2 276.9 248.2 279.7 245.3 282.1 242.4 284 239.4 285.6 236.4 287 233.4 288.4 230.6 290 228 291.6 225.6 293.1 223.3 294.5 221.1 296.1 219.2 297.9 217.4 300 216 302.5 214.9 305.2 214.2 308.1 213.8 311.3 213.4 314.5 213.1 317.8 212.7 321 212.2 324.2 211.8 327.5 211.4 331.1 211 335.2 210.5 340 210 345.8 209.5 352.4 209.2 359.6 208.8 366.9 208.3 374.1 207.3 380.8 205.8 387.2 203.6 393.7 200.7 400 197.5 406 194.1 411.5 190.9 416.2 188 420 185.2 423.1 182.1 425.6 179.1 427.8 176.6 430.1 175 432.6 174.5 435.2 175.5 437.7 177.7 440.1 180.8 442.7 184.3 445.7 187.7 449 190.8 452.7 193.6 456.7 196.6 461 199.5 465.6 202.3 470.6 204.9 476 207.2 481.9 209.2 488.1 210.9 494.8 212.4 501.8 213.7 509.2 214.7 517 215.3 525.6 215.4 535.1 215 545 214.3 554.7 213.5 563.7 212.9 571.4 212.6 577.5 212.9 582.3 213.6 586.3 214.4 590.2 215.1 594.6 215.5 600 215.3 606.7 214.4 614.3 213.1 622.3 211.5 630.4 209.6 637.9 207.5 644.5 205.3 650.2 203 655.4 200.4 660 197.7 664.3 194.9 668.2 191.9 671.7 189 674.8 185.6 677.2 181.6 679.3 177.5 681.3 173.8 683.2 171.2 685.3 170 687.4 170.7 689.4 172.9 691.3 176.1 693.4 179.8 695.9 183.3 699 186.3 702.6 188.8 706.5 191.4 710.8 193.8 715.5 196.2 720.5 198.2 726 200 732 201.5 738.6 202.8 745.6 203.8 752.8 204.6 760 205.1 767 205.3 773.9 205.3 780.9 205.1 787.9 204.7 794.8 203.8 801.4 202.3 807.8 200 814 196.5 820.3 191.7 826.3 186.3 831.9 180.9 836.9 176.2 841 172.7 844 170.6 846.1 169.5 847.5 168.9 848.5 168.7 849.6 168.5 851 168" stroke="#000070" stroke-width="1.6" stroke-opacity="0.8"/><g mask="url(#tmb)" stroke="#111" stroke-width="1.6"><path d="M224 48L224.5 48.6 224.8 49.1 225.1 49.6 225.6 50.3 226.5 51.2 228 52.5 230.2 54.4 232.9 56.8 236 59.5 239.5 62.3 243.2 64.8 247 67 251.1 68.7 255.5 70.1 260.2 71.4 265 72.5 269.8 73.7 274.5 75 279.1 76.3 283.7 77.7 288.3 79 292.9 80.4 297.3 81.8 301.7 83.4 306.1 85.1 310.5 87 314.8 88.9 318.9 90.8 322.7 92.7 326 94.5 328.8 96.2 331.2 97.9 333.3 99.5 335 101.1 336.6 102.6 338 104 339.3 105.2 340.3 106.1 341.2 107 341.8 107.9 342.1 109.2 342 110.8 341.6 113 340.9 115.7 339.8 118.6 338.5 121.6 336.9 124.5 335 127 333 129.1 330.8 131.1 328.3 132.8 325.5 134.5 322 136.2 317.8 138 312.6 139.7 306.3 141.4 299.5 143 292.6 144.7 285.8 146.7 279.7 149 274.3 151.7 269.2 154.6 264.4 157.8 259.6 161.2 254.9 164.6 250 168 245 171.6 240 175.4 234.9 179.3 229.9 183 224.8 186.5 219.8 189.5 214.9 192 210 194.1 205.2 195.9 200.3 197.6 195.3 199 190 200.4 184.5 201.7 178.9 202.9 173.2 203.9 167.2 204.8 161 205.4 154.5 205.9 147.1 206 138.8 205.9 130.3 205.5 122.2 205.1 115.2 204.7 110 204.5 107 204.4 105.7 204.4 105.5 204.4 105.8 204.4 106.2 204.5 106 204.5"/><path d="M462 127L462 127.4 462 127.8 461.9 128.2 461.9 128.6 461.8 129 461.7 129.3 461.5 129.7 461.4 130.1 461.3 130.5 461.1 130.9 460.9 131.3 460.7 131.6 460.5 132 460.2 132.4 459.9 132.7 459.7 133.1 459.4 133.5 459.1 133.8 458.7 134.2 458.4 134.5 458 134.8 457.6 135.2 457.3 135.5 456.8 135.8 456.4 136.1 456 136.4 455.5 136.7 455.1 137 454.6 137.3 454.1 137.6 453.6 137.9 453.1 138.1 452.5 138.4 452 138.7 451.4 138.9 450.9 139.1 450.3 139.4 449.7 139.6 449.1 139.8 448.5 140 447.9 140.2 447.3 140.4 446.6 140.5 446 140.7 445.3 140.9 444.7 141 444 141.1 443.3 141.3 442.7 141.4 442 141.5 441.3 141.6 440.6 141.7 439.9 141.7 439.2 141.8 438.5 141.9 437.8 141.9 437.1 142 436.4 142 435.7 142 435 142 434.3 142 433.6 142 432.9 142 432.2 141.9 431.5 141.9 430.8 141.8 430.1 141.7 429.4 141.7 428.7 141.6 428 141.5 427.3 141.4 426.7 141.3 426 141.1 425.3 141 424.7 140.9 424 140.7 423.4 140.5 422.7 140.4 422.1 140.2 421.5 140 420.9 139.8 420.3 139.6 419.7 139.4 419.1 139.1 418.6 138.9 418 138.7 417.5 138.4 416.9 138.1 416.4 137.9 415.9 137.6 415.4 137.3 414.9 137 414.5 136.7 414 136.4 413.6 136.1 413.2 135.8 412.7 135.5 412.4 135.2 412 134.8 411.6 134.5 411.3 134.2 410.9 133.8 410.6 133.5 410.3 133.1 410.1 132.7 409.8 132.4 409.5 132 409.3 131.6 409.1 131.3 408.9 130.9 408.7 130.5 408.6 130.1 408.5 129.7 408.3 129.3 408.2 129 408.1 128.6 408.1 128.2 408 127.8 408 127.4 408 127 408 126.6 408 126.2 408.1 125.8 408.1 125.4 408.2 125 408.3 124.7 408.5 124.3 408.6 123.9 408.7 123.5 408.9 123.1 409.1 122.7 409.3 122.4 409.5 122 409.8 121.6 410.1 121.3 410.3 120.9 410.6 120.5 410.9 120.2 411.3 119.8 411.6 119.5 412 119.2 412.4 118.8 412.7 118.5 413.2 118.2 413.6 117.9 414 117.6 414.5 117.3 414.9 117 415.4 116.7 415.9 116.4 416.4 116.1 416.9 115.9 417.5 115.6 418 115.3 418.6 115.1 419.1 114.9 419.7 114.6 420.3 114.4 420.9 114.2 421.5 114 422.1 113.8 422.7 113.6 423.4 113.5 424 113.3 424.7 113.1 425.3 113 426 112.9 426.7 112.7 427.3 112.6 428 112.5 428.7 112.4 429.4 112.3 430.1 112.3 430.8 112.2 431.5 112.1 432.2 112.1 432.9 112 433.6 112 434.3 112 435 112 435.7 112 436.4 112 437.1 112 437.8 112.1 438.5 112.1 439.2 112.2 439.9 112.3 440.6 112.3 441.3 112.4 442 112.5 442.7 112.6 443.3 112.7 444 112.9 444.7 113 445.3 113.1 446 113.3 446.6 113.5 447.3 113.6 447.9 113.8 448.5 114 449.1 114.2 449.7 114.4 450.3 114.6 450.9 114.9 451.4 115.1 452 115.3 452.5 115.6 453.1 115.9 453.6 116.1 454.1 116.4 454.6 116.7 455.1 117 455.5 117.3 456 117.6 456.4 117.9 456.8 118.2 457.3 118.5 457.6 118.8 458 119.2 458.4 119.5 458.7 119.8 459.1 120.2 459.4 120.5 459.7 120.9 459.9 121.3 460.2 121.6 460.5 122 460.7 122.4 460.9 122.7 461.1 123.1 461.3 123.5 461.4 123.9 461.5 124.3 461.7 124.7 461.8 125 461.9 125.4 461.9 125.8 462 126.2 462 126.6Z"/><path d="M517 113L517.3 111 517.9 108.9 518.7 106.6 519.7 104.3 520.8 102 522 100 523.2 98.1 524.5 96.2 525.9 94.4 527.5 92.7 529.5 91.2 532 90 534.9 89 538.3 88.3 541.9 87.8 546 87.4 550.3 87.1 555 87 560.3 87 566.3 87.1 572.6 87.3 578.9 87.7 584.8 88.3 590 89 594.5 90 598.6 91.1 602.3 92.4 605.7 93.9 608.9 95.4 612 97 614.9 98.6 617.7 100.4 620.2 102.2 622.5 104.1 624.5 106.1 626 108 627.2 110 628 112 628.5 114.1 628.7 116.1 628.5 118.1 628 120 627.1 121.8 625.9 123.6 624.2 125.3 622.4 127 620.3 128.5 618 130 615.5 131.4 612.9 132.7 609.9 133.9 606.8 135.1 603.5 136.1 600 137 596.3 137.8 592.3 138.4 588.1 139 583.7 139.4 579.4 139.8 575 140 570.5 140.2 565.8 140.3 561.1 140.2 556.4 140.1 552 139.7 548 139 544.4 138 541 136.6 537.9 134.9 535.1 133.2 532.4 131.5 530 130 527.8 128.6 525.8 127.3 524.1 126 522.5 124.7 521.2 123.4 520 122 519 120.6 518.2 119.2 517.6 117.8 517.1 116.3 517 114.7Z"/><path d="M694.6 123L694.6 123.2 694.6 123.4 694.6 123.5 694.5 123.7 694.5 123.9 694.5 124.1 694.4 124.3 694.3 124.5 694.3 124.6 694.2 124.8 694.1 125 694 125.2 693.9 125.3 693.8 125.5 693.7 125.7 693.6 125.8 693.4 126 693.3 126.2 693.1 126.3 693 126.5 692.8 126.7 692.7 126.8 692.5 127 692.3 127.1 692.1 127.3 691.9 127.4 691.7 127.5 691.5 127.7 691.3 127.8 691.1 127.9 690.9 128.1 690.6 128.2 690.4 128.3 690.2 128.4 689.9 128.6 689.7 128.7 689.4 128.8 689.1 128.9 688.9 129 688.6 129.1 688.3 129.2 688 129.2 687.8 129.3 687.5 129.4 687.2 129.5 686.9 129.5 686.6 129.6 686.3 129.7 686 129.7 685.7 129.8 685.4 129.8 685.1 129.8 684.8 129.9 684.5 129.9 684.2 129.9 683.9 130 683.5 130 683.2 130 682.9 130 682.6 130 682.3 130 682 130 681.7 130 681.3 130 681 129.9 680.7 129.9 680.4 129.9 680.1 129.8 679.8 129.8 679.5 129.8 679.2 129.7 678.9 129.7 678.6 129.6 678.3 129.5 678 129.5 677.7 129.4 677.4 129.3 677.2 129.2 676.9 129.2 676.6 129.1 676.3 129 676.1 128.9 675.8 128.8 675.5 128.7 675.3 128.6 675 128.4 674.8 128.3 674.6 128.2 674.3 128.1 674.1 127.9 673.9 127.8 673.7 127.7 673.5 127.5 673.3 127.4 673.1 127.3 672.9 127.1 672.7 127 672.5 126.8 672.4 126.7 672.2 126.5 672.1 126.3 671.9 126.2 671.8 126 671.6 125.8 671.5 125.7 671.4 125.5 671.3 125.3 671.2 125.2 671.1 125 671 124.8 670.9 124.6 670.9 124.5 670.8 124.3 670.7 124.1 670.7 123.9 670.7 123.7 670.6 123.5 670.6 123.4 670.6 123.2 670.6 123 670.6 122.8 670.6 122.6 670.6 122.5 670.7 122.3 670.7 122.1 670.7 121.9 670.8 121.7 670.9 121.5 670.9 121.4 671 121.2 671.1 121 671.2 120.8 671.3 120.7 671.4 120.5 671.5 120.3 671.6 120.2 671.8 120 671.9 119.8 672.1 119.7 672.2 119.5 672.4 119.3 672.5 119.2 672.7 119 672.9 118.9 673.1 118.7 673.3 118.6 673.5 118.5 673.7 118.3 673.9 118.2 674.1 118.1 674.3 117.9 674.6 117.8 674.8 117.7 675 117.6 675.3 117.4 675.5 117.3 675.8 117.2 676.1 117.1 676.3 117 676.6 116.9 676.9 116.8 677.2 116.8 677.4 116.7 677.7 116.6 678 116.5 678.3 116.5 678.6 116.4 678.9 116.3 679.2 116.3 679.5 116.2 679.8 116.2 680.1 116.2 680.4 116.1 680.7 116.1 681 116.1 681.3 116 681.7 116 682 116 682.3 116 682.6 116 682.9 116 683.2 116 683.5 116 683.9 116 684.2 116.1 684.5 116.1 684.8 116.1 685.1 116.2 685.4 116.2 685.7 116.2 686 116.3 686.3 116.3 686.6 116.4 686.9 116.5 687.2 116.5 687.5 116.6 687.8 116.7 688 116.8 688.3 116.8 688.6 116.9 688.9 117 689.1 117.1 689.4 117.2 689.7 117.3 689.9 117.4 690.2 117.6 690.4 117.7 690.6 117.8 690.9 117.9 691.1 118.1 691.3 118.2 691.5 118.3 691.7 118.5 691.9 118.6 692.1 118.7 692.3 118.9 692.5 119 692.7 119.2 692.8 119.3 693 119.5 693.1 119.7 693.3 119.8 693.4 120 693.6 120.2 693.7 120.3 693.8 120.5 693.9 120.7 694 120.8 694.1 121 694.2 121.2 694.3 121.4 694.3 121.5 694.4 121.7 694.5 121.9 694.5 122.1 694.5 122.3 694.6 122.5 694.6 122.6 694.6 122.8Z"/><path d="M869 128L869 128.4 869 128.8 868.9 129.3 868.9 129.7 868.8 130.1 868.7 130.5 868.6 130.9 868.4 131.3 868.3 131.7 868.1 132.1 867.9 132.5 867.7 132.9 867.5 133.3 867.3 133.7 867 134.1 866.8 134.5 866.5 134.9 866.2 135.3 865.8 135.6 865.5 136 865.2 136.4 864.8 136.7 864.4 137.1 864 137.4 863.6 137.7 863.2 138.1 862.8 138.4 862.3 138.7 861.9 139 861.4 139.3 860.9 139.6 860.4 139.9 859.9 140.2 859.4 140.4 858.8 140.7 858.3 140.9 857.7 141.2 857.2 141.4 856.6 141.6 856 141.9 855.4 142.1 854.8 142.3 854.2 142.4 853.6 142.6 852.9 142.8 852.3 142.9 851.7 143.1 851 143.2 850.4 143.3 849.7 143.5 849.1 143.6 848.4 143.7 847.7 143.7 847.1 143.8 846.4 143.9 845.7 143.9 845 144 844.4 144 843.7 144 843 144 842.3 144 841.6 144 841 144 840.3 143.9 839.6 143.9 838.9 143.8 838.3 143.7 837.6 143.7 836.9 143.6 836.3 143.5 835.6 143.3 835 143.2 834.3 143.1 833.7 142.9 833.1 142.8 832.4 142.6 831.8 142.4 831.2 142.3 830.6 142.1 830 141.9 829.4 141.6 828.8 141.4 828.3 141.2 827.7 140.9 827.2 140.7 826.6 140.4 826.1 140.2 825.6 139.9 825.1 139.6 824.6 139.3 824.1 139 823.7 138.7 823.2 138.4 822.8 138.1 822.4 137.7 822 137.4 821.6 137.1 821.2 136.7 820.8 136.4 820.5 136 820.2 135.6 819.8 135.3 819.5 134.9 819.2 134.5 819 134.1 818.7 133.7 818.5 133.3 818.3 132.9 818.1 132.5 817.9 132.1 817.7 131.7 817.6 131.3 817.4 130.9 817.3 130.5 817.2 130.1 817.1 129.7 817.1 129.3 817 128.8 817 128.4 817 128 817 127.6 817 127.2 817.1 126.7 817.1 126.3 817.2 125.9 817.3 125.5 817.4 125.1 817.6 124.7 817.7 124.3 817.9 123.9 818.1 123.5 818.3 123.1 818.5 122.7 818.7 122.3 819 121.9 819.2 121.5 819.5 121.1 819.8 120.7 820.2 120.4 820.5 120 820.8 119.6 821.2 119.3 821.6 118.9 822 118.6 822.4 118.3 822.8 117.9 823.2 117.6 823.7 117.3 824.1 117 824.6 116.7 825.1 116.4 825.6 116.1 826.1 115.8 826.6 115.6 827.2 115.3 827.7 115.1 828.3 114.8 828.8 114.6 829.4 114.4 830 114.1 830.6 113.9 831.2 113.7 831.8 113.6 832.4 113.4 833.1 113.2 833.7 113.1 834.3 112.9 835 112.8 835.6 112.7 836.3 112.5 836.9 112.4 837.6 112.3 838.3 112.3 838.9 112.2 839.6 112.1 840.3 112.1 841 112 841.6 112 842.3 112 843 112 843.7 112 844.4 112 845 112 845.7 112.1 846.4 112.1 847.1 112.2 847.7 112.3 848.4 112.3 849.1 112.4 849.7 112.5 850.4 112.7 851 112.8 851.7 112.9 852.3 113.1 852.9 113.2 853.6 113.4 854.2 113.6 854.8 113.7 855.4 113.9 856 114.1 856.6 114.4 857.2 114.6 857.7 114.8 858.3 115.1 858.8 115.3 859.4 115.6 859.9 115.8 860.4 116.1 860.9 116.4 861.4 116.7 861.9 117 862.3 117.3 862.8 117.6 863.2 117.9 863.6 118.3 864 118.6 864.4 118.9 864.8 119.3 865.2 119.6 865.5 120 865.8 120.4 866.2 120.7 866.5 121.1 866.8 121.5 867 121.9 867.3 122.3 867.5 122.7 867.7 123.1 867.9 123.5 868.1 123.9 868.3 124.3 868.4 124.7 868.6 125.1 868.7 125.5 868.8 125.9 868.9 126.3 868.9 126.7 869 127.2 869 127.6Z"/><path d="M262 48L262.3 48.6 262.5 49.1 262.6 49.6 262.9 50.3 263.7 51.2 265 52.5 267.2 54.5 270 57 273.3 59.8 276.7 62.6 279.9 65.1 282.6 67 284.5 68.3 285.8 69.1 286.9 69.7 288.3 70.1 290.3 70.5 293.5 71 297.8 71.5 302.8 72 308.6 72.5 314.9 73 321.7 73.5 329 74 336.9 74.6 345.6 75.2 354.8 75.8 364.3 76.5 373.7 77.2 383 78 392.3 79 401.8 80.2 411.4 81.5 420.7 82.7 429.6 83.6 437.8 84 445.3 83.9 452.3 83.5 458.8 82.8 464.9 81.9 470.6 81 476 80 480.8 79 484.9 77.8 488.6 76.5 492.2 75.2 495.9 74 500 73 504.2 72.2 508.4 71.4 512.6 70.8 517.2 70.2 522.2 69.8 528 69.5 534.6 69.4 541.9 69.4 549.7 69.5 557.8 69.7 566 70.1 574 70.5 582.4 71.1 591.3 71.9 600.3 72.8 608.9 73.7 616.7 74.5 623 75 627.4 75.2 630 75 631.8 74.7 633.5 74.5 636 74.5 640 75 645.8 76.1 652.7 77.6 660.3 79.4 668.3 81.2 676.4 82.9 684 84.3 691.3 85.4 698.7 86.3 706 87.1 713.3 87.7 720.7 88.3 728 88.7 735 89 741.7 89.1 748.4 89.1 755.5 89 763.2 88.9 772 88.7 782.7 88.4 795.3 88.1 808.6 87.6 821.4 87.2 832.6 86.8 841 86.5 846.1 86.3 848.7 86.2 849.7 86.1 849.9 86.1 850 86.1 851 86"/><path d="M100 213L101.4 213.3 102.6 213.6 103.7 213.8 105.1 214.2 107.1 214.7 110 215.4 113.8 216.5 118.4 217.8 123.6 219.3 129.2 220.9 135 222.3 141 223.6 147.2 224.8 153.8 226 160.7 227.1 167.8 228 174.8 228.7 181.7 229 188.7 229 195.8 228.8 202.9 228.3 209.9 227.5 216.5 226.4 222.5 225 227.9 223.2 232.9 220.9 237.5 218.3 241.7 215.5 245.8 212.7 249.7 210 253.4 207.3 257 204.5 260.3 201.7 263.3 198.9 266.2 196.2 268.8 193.6 271.1 191.2 273.1 188.8 274.9 186.5 276.6 184.3 278.1 182.1 279.7 180 281.3 177.9 282.8 175.8 284.2 173.7 285.6 171.7 286.8 169.8 288 168 289 166.3 289.8 164.5 290.6 162.9 291.3 161.5 292.1 160.3 293 159.5 293.8 159.2 294.3 159.2 294.9 159.5 295.9 160 297.5 160.5 300 161 303.7 161.5 308.3 162 313.6 162.7 319.1 163.2 324.7 163.7 330 164 334.9 164.1 339.6 164.1 344.4 164 349.3 163.7 354.4 163.4 360 163 366.2 162.4 372.9 161.7 379.8 160.9 386.8 160.1 393.6 159.2 400 158.5 405.7 157.8 411 157 416.1 156.3 421.2 155.6 426.6 155.2 432.6 155 439.1 155.1 445.9 155.4 452.9 156 460.3 156.6 468 157.4 476 158.2 484.6 159.2 493.8 160.6 503.3 162 512.8 163.3 522 164.4 530.6 165 538.7 165.1 546.5 164.7 554.1 164 561.2 163.3 567.9 162.6 574 162.3 579.6 162.3 584.7 162.5 589.3 162.7 593.5 163 597 163.4 600 163.6 601.9 163.8 602.8 164.1 603.1 164.4 603.4 164.6 604.2 164.7 606 164.5 608.9 164.1 612.6 163.4 616.7 162.6 621.1 161.7 625.6 160.8 630 160 634.1 159.2 638.1 158.3 642.2 157.5 646.5 156.6 651.3 155.8 656.7 155 662.7 154.2 669.2 153.4 676.1 152.6 683.4 151.9 691.1 151.3 699 151 707.4 150.9 716.2 150.9 725.4 151.2 734.8 151.5 744.2 151.9 753.4 152.3 762.7 152.9 772.3 153.6 781.9 154.5 791.2 155.3 800 155.9 807.8 156.3 814.8 156.4 821.3 156.2 827.2 155.9 832.4 155.5 837.1 155.2 841 155 844 154.9 846.1 154.9 847.5 154.9 848.5 155 849.6 155 851 155"/><path d="M100 292L101.7 290.7 103.5 289.5 105.2 288.2 107 287 108.6 285.6 110 284 111.2 282.2 112.2 280.1 113.1 277.8 114 275.7 114.9 273.7 116 272 117.2 270.6 118.5 269.4 119.9 268.4 121.3 267.6 122.7 267 124 266.5 125 266.2 125.6 266 126.2 266.1 127.2 266.3 128.8 266.8 131.4 267.5 135.1 268.5 139.5 269.8 144.6 271.2 150.3 273 156.4 274.9 162.8 277 169.8 279.4 177.4 282.1 185.4 285.1 193.7 288.1 202 291.1 210 294 218 296.8 226.3 299.7 234.5 302.6 242.5 305.3 250.1 307.8 257 310 263.3 311.9 269.1 313.6 274.5 315 279.5 316.2 284.2 317.2 288.5 317.8 292.4 318.2 295.9 318.3 298.9 318.2 301.8 317.7 304.6 317 307.4 316 310.3 314.7 313.1 313.2 315.8 311.3 318.4 309.1 320.8 306.6 323 303.7 325 300.2 326.9 296.1 328.6 291.7 330.2 287.1 331.5 282.7 332.5 278.5 333.1 274.5 333.4 270.5 333.3 266.6 333.3 262.9 333.5 259.5 334 256.5 334.8 254 335.6 251.9 336.5 250.2 337.8 248.6 339.6 247.1 342 245.6 345.3 244.1 349.5 242.7 354.1 241.3 358.9 240.1 363.3 238.9 367 237.7 369.9 236.6 372.2 235.7 374.3 234.8 376.2 233.9 378.3 232.9 380.8 231.7 383.7 230.4 386.7 229.2 389.9 227.8 393.2 226.3 396.6 224.4 400 222 403.6 218.9 407.4 215.2 411.3 211.1 415.1 206.9 418.6 203.1 421.7 200 424.4 197.1 426.8 194.2 429 191.6 430.9 189.7 432.5 188.9 434 189.5 435.1 192.2 435.7 196.9 436.1 202.6 436.5 208.6 437 214 438 218 439.2 220.5 440.6 222.1 442.1 223.2 443.9 224 446.2 224.9 449 226.2 452.4 227.8 456.3 229.5 460.6 231.3 465.4 233.1 470.5 235 476 237 481.9 239.4 488.1 242.3 494.8 245.2 501.8 247.8 509.2 249.8 517 250.7 525.6 250.1 535.1 248.4 545 245.9 554.7 243.3 563.7 241.1 571.4 239.8 577.5 239.4 582.3 239.6 586.3 240.2 590.2 241 594.6 241.9 600 242.6 606.6 243.3 613.9 244.2 621.7 245 629.6 245.9 637.3 246.8 644.5 247.5 651.2 248.2 657.5 248.9 663.6 249.5 669.7 250 676 250.3 682.6 250.3 689.6 250 696.8 249.4 704.1 248.7 711.5 247.8 718.8 246.9 726 246 733 245.3 739.9 244.8 746.7 244.3 753.4 243.5 760.2 242.4 767 240.7 774 238.4 781.3 235.5 788.6 232.2 795.6 228.7 802.1 225.2 807.8 221.7 812.7 218.2 816.9 214.6 820.5 210.8 823.8 207.1 826.8 203.5 829.6 200 832.1 196.6 834.2 193.2 836 189.8 837.7 186.6 839.3 183.7 841 181 842.7 178.7 844.4 176.7 846.1 175 847.7 173.4 849.3 171.7 851 170"/><path d="M269 510L270.7 506.9 272.4 503.8 274 500.7 275.7 497.6 277.7 494.7 280 492 282.6 489.6 285.5 487.3 288.6 485.2 291.9 483.2 295.3 481.3 299 479.4 303 477.5 307.3 475.5 311.8 473.6 316.4 471.9 320.8 470.3 325 469 328.7 468 332.2 467.1 335.5 466.5 338.9 466 342.5 465.7 346.7 465.5 351.5 465.5 356.9 465.6 362.6 465.9 368.3 466.4 373.7 466.9 378.5 467.4 382.7 468 386.5 468.8 390.1 469.6 393.5 470.5 396.7 471.3 400 472 403.2 472.9 406.3 473.9 409.3 475 412.2 475.7 415.2 476 418.3 475.4 421.6 473.8 425 471.3 428.4 468.3 431.8 465.1 435 462 438 459.5 440.7 457.4 443.2 455.5 445.5 453.7 447.8 452 450.1 450.6 452.6 449.2 455.3 448 458 447 460.9 446.1 463.7 445.4 466.6 444.7 469.3 444 472 443.4 474.6 442.9 477.2 442.4 479.8 442 482.4 441.5 485 441 487.4 440.5 489.6 440.1 491.7 439.7 494.1 439.2 497.1 438.4 500.7 437.3 505.4 435.7 511 433.8 517.1 431.6 523.3 429.3 529.1 427.1 534.2 425 538.5 423 542.4 421 545.9 419.1 549.1 417.2 552.1 415.5 555 414 557.7 412.7 560.1 411.4 562.3 410.4 564.2 409.5 566 408.8 567.7 408.4 569 408.1 570 408 570.9 408.1 571.7 408.4 572.7 409.2 574 410.5 575.6 412.3 577.4 414.5 579.4 417.1 581.6 420.2 583.9 423.5 586.6 427.2 589.7 431.4 593.3 436.1 597.1 441.2 600.8 446.4 604.4 451.6 607.5 456.5 610.2 461.2 612.6 465.8 614.8 470.3 616.8 474.9 618.5 479.3 620 483.8 621.2 488.2 622 492.6 622.7 497 623.2 501.3 623.7 505.6 624.3 510"/><path d="M754 510L754.9 506.7 755.5 503.3 756.2 500 757.1 496.7 758.3 493.3 760 490 762.4 486.5 765.5 482.9 768.9 479.2 772.4 475.8 775.7 472.6 778.5 470 780.8 468 782.6 466.4 784.3 465.2 786 464.2 787.8 463.2 790 462 792.5 460.7 795.2 459.3 798.1 458 801.1 456.7 804 455.3 807 454 810 452.6 813 451.2 816.1 449.8 819.1 448.4 822.1 447.1 825 446 827.7 445 830.4 444.2 832.9 443.5 835.5 442.8 838.2 442.2 841 441.7 844 441.3 847.1 440.9 850.3 440.7 853.6 440.5 856.8 440.3 860 440"/></g></g><g style="font-family:'Liberation Serif',serif;font-size:29px" fill="#111"><text x="249" y="170" text-anchor="middle" dominant-baseline="central" transform="rotate(-36 249 169)">100</text><text x="576" y="138" text-anchor="middle" dominant-baseline="central" transform="rotate(0 576 137)">100</text><text x="475.5" y="69.5" text-anchor="middle" dominant-baseline="central" transform="rotate(-15 475.5 68.5)">30</text><text x="524" y="184.5" text-anchor="middle" dominant-baseline="central" transform="rotate(0 524 183.5)">30</text><text x="632" y="164" text-anchor="middle" dominant-baseline="central" transform="rotate(-4 632 163)">50</text><text x="664.5" y="251" text-anchor="middle" dominant-baseline="central" transform="rotate(-5 664.5 250)">1</text><text x="485.5" y="442" text-anchor="middle" dominant-baseline="central" transform="rotate(-20 485.5 441)">1</text><text x="790.5" y="464" text-anchor="middle" dominant-baseline="central" transform="rotate(-38 790.5 463)">1</text></g></g>
<rect x="121" y="424" width="220" height="79" fill="#fff" fill-opacity="0.45"/>
<g style="font-family:'Liberation Serif',serif;font-size:32px;font-style:italic" fill="#111"><text x="123" y="455">Acanthostomella</text><text x="123" y="491">norvegica</text></g>
<g fill="#000"><circle cx="110.0" cy="63.5" r="5"/><circle cx="110.0" cy="109.2" r="5"/><circle cx="110.0" cy="143.6" r="5"/><circle cx="110.0" cy="223.8" r="5"/><circle cx="110.0" cy="281.0" r="5"/><circle cx="110.0" cy="395.5" r="5"/><circle cx="110.0" cy="510.0" r="5"/><circle cx="293.0" cy="63.5" r="5"/><circle cx="293.0" cy="109.2" r="5"/><circle cx="293.0" cy="157.3" r="5"/><circle cx="293.0" cy="223.8" r="5"/><circle cx="293.0" cy="281.0" r="5"/><circle cx="293.0" cy="395.5" r="5"/><circle cx="293.0" cy="510.0" r="5"/><circle cx="433.5" cy="63.5" r="5"/><circle cx="433.5" cy="133.3" r="5"/><circle cx="433.5" cy="166.5" r="5"/><circle cx="433.5" cy="223.8" r="5"/><circle cx="433.5" cy="281.0" r="5"/><circle cx="433.5" cy="395.5" r="5"/><circle cx="433.5" cy="510.0" r="5"/><circle cx="574.0" cy="63.5" r="5"/><circle cx="574.0" cy="109.2" r="5"/><circle cx="574.0" cy="166.5" r="5"/><circle cx="574.0" cy="223.8" r="5"/><circle cx="574.0" cy="281.0" r="5"/><circle cx="574.0" cy="395.5" r="5"/><circle cx="574.0" cy="510.0" r="5"/><circle cx="686.5" cy="63.5" r="5"/><circle cx="686.5" cy="124.1" r="5"/><circle cx="686.5" cy="166.5" r="5"/><circle cx="686.5" cy="223.8" r="5"/><circle cx="686.5" cy="281.0" r="5"/><circle cx="686.5" cy="395.5" r="5"/><circle cx="686.5" cy="510.0" r="5"/><circle cx="841.0" cy="63.5" r="5"/><circle cx="841.0" cy="134.4" r="5"/><circle cx="841.0" cy="166.5" r="5"/><circle cx="841.0" cy="223.8" r="5"/><circle cx="841.0" cy="281.0" r="5"/><circle cx="841.0" cy="395.5" r="5"/><circle cx="841.0" cy="510.0" r="5"/></g>
<rect x="110" y="52" width="731" height="458" fill="none" stroke="#000" stroke-width="3.6"/><line x1="98.5" y1="52.0" x2="110" y2="52.0" stroke="#000" stroke-width="3.2"/><line x1="98.5" y1="166.5" x2="110" y2="166.5" stroke="#000" stroke-width="3.2"/><line x1="98.5" y1="281.0" x2="110" y2="281.0" stroke="#000" stroke-width="3.2"/><line x1="98.5" y1="395.5" x2="110" y2="395.5" stroke="#000" stroke-width="3.2"/><line x1="98.5" y1="510.0" x2="110" y2="510.0" stroke="#000" stroke-width="3.2"/>
<g clip-path="url(#cb)"><rect x="110" y="563" width="731" height="455.5" fill="#0052b0"/><path fill="#00946a" d="M105 714L120.2 714.8 135.6 715.5 150.9 716.3 165.7 717.1 179.6 718 192.4 719.1 204.4 720.4 215.9 721.8 227.3 723 239 724 251.3 724.6 263.9 724.9 276.4 725.2 288.3 725.5 299 726 308.8 726.7 317.9 727.6 326.2 728.6 333.2 729.7 338.8 731 342.6 732.5 344.7 734.3 345.7 736.1 346 738.1 346 740 345.5 741.9 344.2 743.9 342.4 745.8 340.5 747.9 338.8 750 337.6 752.3 336.8 754.9 335.8 757.4 333.9 759.7 330.8 761.6 326.1 762.9 320.2 763.7 313.5 764.4 306.3 764.9 299 765.6 291.5 766.3 283.6 766.8 275.4 767.4 267.1 768.3 259 769.6 251 771.3 242.9 773.4 234.8 775.7 227 778.4 219.4 781.5 211.9 784.9 204.5 788.8 197.4 792.9 190.8 797.3 185 802 179.4 807.2 173.8 813.1 169.1 819 166.2 824.5 166 829 169.5 832.5 176.1 835.4 184.4 837.7 192.7 839.5 199.5 841 204.5 841.5 208.6 841 212.5 840.4 216.7 840.4 222 842 228.6 845.5 236 850.3 243.9 856 251.7 861.9 259 867.5 265.5 873.7 271.4 880.8 277.3 887.6 283.7 892.8 291 895.4 299.7 894.3 309.3 890.4 319.4 885 329.4 879.6 338.8 875.5 347.5 872.9 355.9 870.8 364 869.1 372.1 867.5 380 866 388 864.5 395.8 863 403.6 861.7 411.1 860.6 418.3 859.6 425.1 858.8 431.5 858.1 437.8 857.6 443.9 857.2 450 857 456.2 857 462.4 857.1 468.4 857.4 474.3 857.7 480 858 485.5 858.3 490.8 858.7 495.9 859.2 500.7 859.6 505 860 508.7 860.1 511.8 859.9 514.7 859.9 517.6 860.4 521 862 524.6 864.9 528.3 868.8 532.3 873.4 536.7 877.9 541.7 882 547.8 885.8 555 889.7 562.4 893.4 569.3 896.5 575 899 579.2 900.6 582.4 901.4 585 901.8 587.4 901.9 590 902 592.9 902 595.9 901.7 598.7 901.2 601.5 900.6 604 900 606.3 899.5 608.4 898.9 610.3 898.3 612.2 897.3 614 896 615.7 894.2 617.3 892 618.8 889.5 620.4 886.8 622 884 623.7 880.8 625.3 877.1 627 873.3 628.9 869.8 631 867 632.8 864.9 634.3 863.4 636.2 862.2 639.5 861.3 645 860.4 653.8 859.6 665.4 859 678.1 858.5 690.2 858.2 700 858 706.8 857.9 711.8 857.8 715.9 857.9 720.3 858.3 726 859 733.2 860.1 741.3 861.4 749.9 863 758.6 864.9 767 867 775.2 869.5 783.4 872.6 791.5 875.7 799.7 878.6 807.8 880.8 815.9 882.3 823.9 883.2 831.9 883.8 840 884.3 848 885L848 1030L100 1030L100 714Z"/><path fill="#00946a" d="M200 558L185.7 558.8 184.9 559.6 191.8 560.6 200.8 561.8 206 563 207.3 564.4 208.4 566 209.8 567.7 211.5 569.4 214 571 217.1 572.6 220.8 574.3 225 576 229.7 577.6 235 579 240.9 580.2 247.3 581.4 254.2 582.4 261.8 583.2 270 584 279.2 584.7 289.4 585.2 300 585.6 310.4 585.9 320 586 328.6 585.9 336.7 585.7 344.5 585.3 352.2 584.7 360 584 368.2 583.1 376.7 582 385.1 580.7 393 579.4 400 578 406.2 576.6 411.8 575 416.7 573.4 421.1 571.8 425 570 428.3 568 430.9 565.9 433.1 563.7 434.7 561.6 436 560 440.5 558.7 448.1 557.7 453.5 556.9 451.3 556.3 436 556 400 556 347 556.2 288.3 556.7 235.5 557.3Z"/><path fill="#00946a" d="M541 598L541.4 595.8 542.2 593.6 543.5 591.5 545.4 589.6 548 588 551.3 586.7 555.3 585.7 559.9 585 564.8 584.4 570 584 575.3 583.9 580.7 584.2 586.6 584.5 592.9 584.9 600 585 607.8 584.8 616.2 584.5 625.2 584.1 634.7 583.8 644.5 583.6 655.6 583.6 668 583.6 680.4 583.7 691.5 583.9 700 584 705.2 584.1 708 584.1 709.5 584.2 710.6 584.4 712.5 585 715.1 585.9 717.8 587 720.5 588.3 723.3 589.9 726 591.8 728.3 594.1 730.2 596.8 732.3 599.6 735.2 602.6 739.7 605.4 745.9 608.1 753.5 610.8 762 613.6 771.1 616.3 780.6 619 791.3 621.9 803.4 624.9 815.6 627.9 826.6 630.5 835 632.6 840.5 632.3 843.8 629.8 845.7 627.8 846.9 628.9 848 636 849.9 652.4 852.2 676.3 853.5 702.6 852.5 726 848 741.5 838.6 747.1 825.3 746.4 809.9 742 794.3 736.8 780.6 733.4 768.6 731.9 757.2 730.4 746.2 729 735.8 727.7 726 726.5 717 725.5 708.7 724.8 700.9 724.1 693.2 723.3 685.3 722.5 676.8 721.5 667.9 720.5 659.2 719.4 651.2 718.2 644.5 717 639.1 715.9 634.7 714.9 631.1 713.8 628.3 712.3 626 710 624.4 707 623.6 703.6 623.4 699.6 623.6 695 624 690 625 684.1 626.7 677.3 628.5 670.2 630.1 663.3 630.8 657 630.6 651.4 629.8 646 628.6 641 627.1 636.5 625.4 632.6 623.7 629.4 621.9 626.7 619.8 624.5 617.2 622.7 614 621 610.1 619.5 605.5 618.4 600.5 617.5 595.3 616.8 590 616.3 584.5 616.2 578.5 616.6 572.5 617 566.9 617.3 562 617 557.9 616.2 554.2 615 551 613.5 548.3 611.8 546 610 544.1 607.9 542.6 605.5 541.6 602.9 541.1 600.4Z"/><path fill="#00946a" d="M520 766L520 762.7 520.1 759.2 520.5 755.9 521.4 752.7 523 750 525.3 747.7 528.1 745.7 531.5 744 535.5 742.6 540 741.5 545.3 740.7 551.2 740.3 557.7 740.1 564.4 740 571 740 577.9 739.9 585.3 739.8 592.6 739.9 599.4 740.2 605 741 609.4 742.2 612.9 743.7 615.8 745.5 618.1 747.6 620 750 621.5 752.8 622.4 755.9 622.8 759.3 623 762.7 623 766 623 769.3 622.8 772.7 622.4 776.1 621.5 779.2 620 782 618.1 784.4 615.8 786.5 612.9 788.3 609.4 789.8 605 791 599.4 791.8 592.6 792.3 585.3 792.5 577.9 792.5 571 792.5 564.4 792.5 557.7 792.5 551.2 792.3 545.3 791.8 540 791 535.5 789.8 531.5 788.3 528.1 786.5 525.3 784.4 523 782 521.4 779.2 520.5 776.1 520.1 772.7 520 769.3Z"/><path fill="#00946a" d="M615 835L614.9 836.4 614.5 837.9 613.9 839.3 613.1 840.7 612.1 842.1 610.9 843.4 609.4 844.7 607.7 845.9 605.9 847 603.9 848.1 601.7 849.1 599.3 850 596.8 850.8 594.2 851.5 591.5 852.1 588.8 852.6 585.9 853 582.9 853.3 579.9 853.4 577 853.5 574.1 853.4 571.1 853.3 568.1 853 565.2 852.6 562.5 852.1 559.8 851.5 557.2 850.8 554.7 850 552.3 849.1 550.1 848.1 548.1 847 546.3 845.9 544.6 844.7 543.1 843.4 541.9 842.1 540.9 840.7 540.1 839.3 539.5 837.9 539.1 836.4 539 835 539.1 833.6 539.5 832.1 540.1 830.7 540.9 829.3 541.9 827.9 543.1 826.6 544.6 825.3 546.3 824.1 548.1 823 550.1 821.9 552.3 820.9 554.7 820 557.2 819.2 559.8 818.5 562.5 817.9 565.2 817.4 568.1 817 571.1 816.7 574.1 816.6 577 816.5 579.9 816.6 582.9 816.7 585.9 817 588.8 817.4 591.5 817.9 594.2 818.5 596.8 819.2 599.3 820 601.7 820.9 603.9 821.9 605.9 823 607.7 824.1 609.4 825.3 610.9 826.6 612.1 827.9 613.1 829.3 613.9 830.7 614.5 832.1 614.9 833.6Z"/><path fill="#00946a" d="M697 804L697 804.5 696.8 804.9 696.7 805.4 696.4 805.9 696.1 806.3 695.7 806.7 695.2 807.1 694.7 807.5 694.1 807.9 693.5 808.2 692.8 808.6 692.1 808.8 691.3 809.1 690.4 809.3 689.6 809.5 688.7 809.7 687.8 809.8 686.9 809.9 685.9 810 685 810 684.1 810 683.1 809.9 682.2 809.8 681.3 809.7 680.4 809.5 679.6 809.3 678.7 809.1 677.9 808.8 677.2 808.6 676.5 808.2 675.9 807.9 675.3 807.5 674.8 807.1 674.3 806.7 673.9 806.3 673.6 805.9 673.3 805.4 673.2 804.9 673 804.5 673 804 673 803.5 673.2 803.1 673.3 802.6 673.6 802.1 673.9 801.7 674.3 801.3 674.8 800.9 675.3 800.5 675.9 800.1 676.5 799.8 677.2 799.4 677.9 799.2 678.7 798.9 679.6 798.7 680.4 798.5 681.3 798.3 682.2 798.2 683.1 798.1 684.1 798 685 798 685.9 798 686.9 798.1 687.8 798.2 688.7 798.3 689.6 798.5 690.4 798.7 691.3 798.9 692.1 799.2 692.8 799.4 693.5 799.8 694.1 800.1 694.7 800.5 695.2 800.9 695.7 801.3 696.1 801.7 696.4 802.1 696.7 802.6 696.8 803.1 697 803.5Z"/><path fill="#10dd40" d="M100 875L112.2 875.9 124.5 876.8 136.7 877.7 148.6 878.6 160 879.6 170.8 880.6 181.2 881.5 191.2 882.5 200.8 883.6 210 885 218.6 886.6 226.6 888.4 234.3 890.3 242 892.5 250 895 258.7 898.2 267.8 902.3 276.8 906.3 285.4 909.4 293 911 299.1 910.5 304.1 908.6 308.7 905.8 313.7 902.7 320 900 327.5 897.6 335.6 895.1 344.5 892.6 354.2 890.2 365 888 377.1 885.7 390.4 883.3 404.4 881.2 418.8 879.8 433 879.6 447.6 880.7 462.8 882.8 478 885.7 492.3 889.1 505 892.8 516 897.2 525.9 902.4 534.7 907.8 542.7 912.9 550 917 556.3 920.2 561.4 922.7 566 924.8 570.3 926.3 575 927.4 580.1 927.9 585.3 927.6 590.5 927 595.4 926.4 600 926 604.1 925.9 607.9 925.8 611.5 925.7 614.8 925.8 618 926 620.9 926.3 623.5 926.8 626 927.4 628.4 928.1 631 929 633.8 929.9 636.6 930.8 639.4 932 642.2 933.6 645 936 647.6 939.3 650.2 943.5 652.8 948.1 655.4 952.7 658 957 660.8 961.1 663.6 965.3 666.4 969.3 669.2 972.9 672 976 674.6 978.5 676.9 980.5 679.3 982 682 983.2 685 984 688.6 984.3 692.5 984 696.7 983.4 700.9 982.7 705 982 709 981.4 713 980.8 716.9 980.1 720.9 979.2 725 978 728.8 976.4 732.2 974.5 735.9 972.5 740.3 970.4 746 968.5 753.1 966.6 761.2 964.7 770.1 962.8 779.8 961.2 790 960 801 959.3 812.8 959 825.2 958.9 837.7 958.8 850 958.7L850 1040L100 1040Z"/><path fill="#10ff10" d="M100 896L112.2 896.6 124.5 897.2 136.7 897.7 148.6 898.3 160 899 170.8 899.7 181.2 900.4 191.2 901.1 200.8 902 210 903 218.6 904.1 226.6 905.3 234.3 906.7 242 908.2 250 910 258.7 912.5 267.8 915.7 276.8 918.8 285.4 921.3 293 922.4 299.1 921.8 304.1 920 308.7 917.4 313.7 914.6 320 912 327.5 909.6 335.6 907 344.5 904.4 354.2 901.8 365 899.4 377.1 896.9 390.4 894.1 404.4 891.6 418.8 889.9 433 889.5 447.6 890.7 462.8 893.1 478 896.4 492.3 900.2 505 904.3 516 909 525.9 914.6 534.7 920.4 542.7 925.8 550 930 556 932.9 560.6 934.9 564.7 936.3 569.2 937.5 575 939 582.9 940.7 592.2 942.3 601.8 943.8 610.8 945.4 618 947 623.1 948.4 626.7 949.5 629.5 950.7 632.1 952.4 635 955 638.2 958.8 641.4 963.6 644.6 968.9 647.8 973.9 651 978 654.3 981.2 657.7 983.9 661.2 986.2 664.6 988.2 668 990 671 991.6 673.7 992.8 676.5 993.8 680.1 994.6 685 995 691.8 995 700.3 994.7 709.3 994.1 717.8 993.5 725 993 730 992.6 733.7 992.2 736.9 991.9 740.6 991.6 746 991.5 753.1 991.6 761.2 991.9 770.1 992.3 779.8 992.7 790 993 801 993.2 812.8 993.3 825.2 993.5 837.7 993.6 850 993.7L850 1040L100 1040Z"/><path fill="#66ff00" d="M100 914L112.2 914.4 124.5 914.8 136.7 915.2 148.6 915.6 160 916 170.8 916.4 181.2 916.7 191.2 917 200.8 917.4 210 918 218.6 918.7 226.6 919.5 234.3 920.4 242 921.6 250 923 258.7 925.1 267.8 927.9 276.8 930.7 285.4 932.9 293 934 299.1 933.7 304.1 932.4 308.7 930.4 313.7 928.2 320 926 327.5 923.7 335.6 921.1 344.5 918.3 354.2 915.9 365 914 377.1 912.6 390.4 911.6 404.4 911 418.8 910.8 433 911 447.6 911.7 462.8 912.7 478 914.2 492.3 916.3 505 919 516 922.8 525.9 927.7 534.7 933 542.7 938 550 942 556 944.8 560.6 946.9 564.7 948.6 569.2 950.2 575 952 582.9 954 592.2 955.9 601.8 957.8 610.8 959.8 618 962 623.1 964.4 626.7 966.8 629.5 969.4 632.1 972.1 635 975 638 978.1 640.6 981.4 643.4 984.9 646.7 988.3 651 991.5 656.6 994.7 663 998 670.1 1001.2 677.5 1003.9 685 1006 692.2 1007.2 699.4 1007.6 706.9 1007.7 715.3 1007.7 725 1008 736.5 1008.7 749.4 1009.5 763.2 1010.3 776.9 1011.2 790 1012 802.3 1012.8 814.4 1013.5 826.2 1014.3 838.1 1015 850 1015.8L850 1040L100 1040Z"/><path fill="#a0ff00" d="M100 927.4L123.1 928 147.4 928.6 171 929.2 192.5 929.9 210 930.5 222.4 931.1 230.9 931.7 237.1 932.3 242.9 933 250 934 258.5 935.6 267.3 937.7 276.1 939.9 284.7 941.5 293 942 300.8 941.1 308.3 939.2 315.6 936.7 322.8 934.2 330 932 336.6 930.2 342.6 928.5 348.7 926.9 355.9 925.4 365 924 376.4 922.5 389.6 921 403.9 919.7 418.6 918.9 433 919 447.2 919.9 461.6 921.5 476.2 923.7 490.7 926.7 505 930.6 519.6 935.9 534.4 942.6 549 949.8 562.8 956.6 575 962 585.5 965.5 594.6 967.7 602.8 969.5 610.5 971.6 618 975 625.2 980.2 631.9 986.6 638.2 993.3 644.5 999.7 651 1004.7 657.6 1008.2 664.2 1010.8 670.9 1012.7 677.8 1014.4 685 1016 691.3 1017.5 696.5 1018.8 702.6 1019.9 711.5 1020.9 725 1022 744.6 1023.2 768.9 1024.4 795.9 1025.6 823.6 1026.8 850 1028L850 1040L100 1040Z"/><path fill="#e6ff00" d="M100 939L123.1 939.3 147.4 939.5 171 939.8 192.5 940.1 210 940.5 222.4 941 230.9 941.5 237.1 942.2 242.9 943 250 944 258.5 945.6 267.3 947.7 276.1 949.8 284.7 951.4 293 952 300.8 951.3 308.3 949.5 315.6 947.3 322.8 945 330 943 336.6 941.4 342.6 940 348.7 938.5 355.9 937.1 365 935.6 376.4 933.6 389.6 931.3 403.9 929.1 418.6 927.6 433 927.4 447.2 928.6 461.6 930.9 476.2 934 490.7 937.7 505 942 519.6 947.2 534.4 953.5 549 960.2 562.8 966.6 575 971.8 585.5 975.5 594.6 978.2 602.8 980.4 610.5 983 618 986.6 625.3 991.6 632.1 997.6 638.6 1003.8 644.8 1009.7 651 1014.6 654.8 1018.2 656.1 1021.1 658.4 1023.4 665.2 1025.6 680 1028 705 1030.5 737.8 1032.9 775.2 1035.3 813.7 1037.6 850 1040L850 1040L100 1040Z"/><path fill="#ffe000" d="M100 954L123.1 953.8 147.4 953.5 171 953.3 192.5 953.1 210 953 222.4 953 230.9 952.9 237.1 953 242.9 953.3 250 954 258.5 955.4 267.3 957.5 276.1 959.6 284.7 961.3 293 962 300.8 961.4 308.3 959.9 315.6 957.9 322.8 955.8 330 954 336.6 952.6 342.6 951.2 348.7 949.8 355.9 948.4 365 947 376.4 945.1 389.6 942.7 403.9 940.5 418.6 939.1 433 939 447.2 940.5 461.6 943.3 476.2 946.9 490.7 951 505 955.3 519.6 960.1 534.4 965.6 549 971.4 562.8 976.9 575 981.7 585.3 985.4 594.2 988.3 602.2 991 609.9 994 618 998 624.1 1003.1 627.8 1008.9 632.6 1015.2 642.1 1021.7 660 1028 688.5 1034.3 725.3 1040.7 766.9 1047.1 809.6 1053.6 850 1060L850 1040L100 1040Z"/><path fill="#ffb400" d="M100 966L123.1 965.8 147.4 965.6 171 965.3 192.5 965.1 210 965 222.4 964.9 230.9 964.7 237.1 964.6 242.9 964.7 250 965 258.5 965.9 267.3 967.2 276.1 968.6 284.7 969.6 293 970 300.8 969.5 308.3 968.4 315.6 966.9 322.8 965.3 330 964 336.6 963 342.6 962 348.7 961.1 355.9 960 365 958.6 376.4 956.4 389.6 953.5 403.9 950.7 418.6 948.9 433 948.7 447.2 950.7 461.6 954.3 476.2 958.8 490.7 963.8 505 968.5 519.6 973.2 534.4 978.3 549 983.4 562.8 988.4 575 993 585.7 997 595.2 1000.7 603.6 1004.2 611.2 1007.6 618 1011 620.7 1013.9 619.3 1016.2 618.7 1018.7 623.9 1022.4 640 1028 670 1036.2 710.5 1046.3 757 1057.5 805 1069 850 1080L850 1040L100 1040Z"/><path fill="#ff9000" d="M100 976L122.4 976 145.3 975.9 167.9 975.9 189.7 975.9 210 976 229.1 976.4 247.4 976.9 264.4 977.5 279.8 978 293 978 303.4 977.6 311.2 976.9 317.6 976 323.5 975 330 974 336.6 973.1 342.6 972.2 348.7 971.2 355.9 970 365 968.5 376.4 966 389.6 962.7 403.9 959.4 418.6 957.2 433 957 447.2 959.3 461.6 963.6 476.2 968.9 490.7 974.6 505 980 519.7 985.1 534.8 990.5 549.6 996 563.3 1001.4 575 1006.4 581 1010.2 581.7 1013 582.9 1016 590.4 1020.5 610 1028 644.9 1039.2 691.2 1053.2 744.2 1068.8 798.7 1084.8 850 1100L850 1040L100 1040Z"/><path fill="#ff7000" d="M100 988L122.4 988 145.3 988.1 167.9 988.1 189.7 988.1 210 988 229.1 987.7 247.4 987.4 264.4 987 279.8 986.5 293 986 303.4 985.5 311.2 984.9 317.6 984.2 323.5 983.6 330 983 336.6 982.5 342.6 982.2 348.7 981.8 355.9 981.1 365 980 376.4 977.7 389.6 974.4 403.9 971 418.6 968.7 433 968.5 447.2 970.9 461.6 975.1 476.2 980.5 490.7 986.3 505 991.5 520 996.5 535.8 1001.8 551.1 1007 564.6 1011.9 575 1016 577.6 1018.2 573.2 1018.8 569 1019.5 572.2 1022 590 1028 626.3 1038.6 676.4 1052.5 734.2 1068.3 794.1 1084.6 850 1100L850 1040L100 1040Z"/><path fill="#ff5000" d="M100 1000L122.4 1000.1 145.3 1000.2 167.9 1000.4 189.7 1000.3 210 1000 229.1 999.2 247.4 998.1 264.4 996.9 279.8 995.8 293 995 303.4 994.7 311.2 994.7 317.6 994.9 323.5 995 330 995 336.6 994.9 342.6 994.9 348.7 994.8 355.9 994.2 365 993 376.4 990.2 389.6 986.1 403.9 981.9 418.6 978.9 433 978.4 447.4 981.1 462.3 986.1 477.2 992.4 491.6 999 505 1004.7 513.3 1008.8 516.9 1011.9 521.9 1015.3 534.2 1020.3 560 1028 603 1039.3 659.1 1053.3 722.7 1068.9 788.2 1084.8 850 1100L850 1040L100 1040Z"/><path fill="#ff3300" d="M100 1030L131.6 1029.2 164.8 1028.5 197.2 1027.7 226.4 1026.9 250 1026 266.2 1025 276.5 1024.1 283.7 1023 290.6 1021.7 300 1020 312 1017.9 324.8 1015.4 338.1 1012.7 351.6 1009.6 365 1006.4 378.3 1002 391.8 996.6 405.4 991.3 419.1 987.5 433 986.6 447.9 989.6 463.8 995.7 479.4 1003.1 493.5 1010.4 505 1016 508.3 1018.6 504.2 1019.2 501 1019.7 506.9 1022 530 1028 575.1 1038.6 636.8 1052.5 707.8 1068.3 781.3 1084.6 850 1100L850 1040L100 1040Z"/><path fill="#ff1a00" d="M100 1060L142.2 1053.3 186.5 1046.2 229.7 1039.4 268.6 1033.1 300 1028 321.6 1024.5 335.6 1022.2 345.3 1020.5 354 1018.7 365 1016 378.7 1011.7 393 1006.2 407.2 1000.7 420.7 996.5 433 994.8 444.1 996.3 454.4 1000.2 463.8 1005.5 472.3 1010.8 480 1015 481.3 1017.1 476.2 1017.9 473 1018.9 479.9 1021.7 505 1028 553.5 1038.6 620 1052.6 696.6 1068.4 775.9 1084.7 850 1100L850 1040L100 1040Z"/><path fill="#ff0000" d="M100 1080L157.8 1069 219.5 1057.3 279.3 1046 331.4 1035.9 370 1028 391.3 1022.8 399.1 1019.8 399.3 1018 397.6 1016.7 400 1015 406.3 1012.6 412.8 1010.2 419.4 1008 426.1 1006.6 433 1006.4 440.4 1007.8 448.3 1010.4 456.2 1013.8 463.6 1017.2 470 1020 469.6 1021.3 462.9 1021.4 458.3 1021.9 464.5 1024.2 490 1030 540.2 1040.2 609.5 1053.7 689.7 1069.1 772.6 1085 850 1100L850 1040L100 1040Z"/><path fill="#10ff10" d="M246 558L240.5 558.6 240.7 559.5 244.3 560.5 248.9 561.7 252 563 253.4 564.4 254.7 566.1 256.3 567.8 258.6 569.4 262 571 266.8 572.6 272.8 574.2 279.5 575.8 286.4 576.9 293 577.5 299.6 577.4 306.5 576.8 313.4 575.7 319.7 574.4 325 573 329.3 571.3 332.8 569.2 335.6 566.9 338 564.8 340 563 343.1 561.6 347.3 560.4 350.3 559.4 349.9 558.6 344 558 329.3 557.6 307.2 557.4 282.6 557.4 260.6 557.6Z"/><ellipse cx="576" cy="601" rx="18.5" ry="12.5" fill="#10ff10"/><path fill="#10dd40" d="M669 605.4L670.3 603.2 672.1 600.9 674.4 598.7 676.9 597 679.8 596 683.3 595.8 687.4 596.2 691.7 597.1 695.7 598.4 699 600 701.1 602.2 702.5 605 703.5 608.1 704.9 611.1 707 613.6 709.5 615.7 712.1 617.5 715.3 619.1 719.7 620.5 726 621.7 734.6 622.5 745.3 622.8 757.1 623.1 769.1 623.5 780.6 624.5 792.1 626.3 804.3 628.6 816.1 631.2 826.6 633.5 835 635.3 840.8 635 844.6 633 847 631.4 848.6 632.4 850 638 852.1 651.1 854.4 670.2 855.7 691.3 854.7 710.1 850 722.5 840.3 727.2 826.5 726.8 810.6 723.5 794.6 719.5 780.6 717 768.7 715.9 757.7 714.8 747.1 713.8 736.7 712.7 726 711.6 714.7 710.5 702.9 709.4 691.3 708.4 680.7 707.2 671.7 706 664.4 704.9 658.3 703.9 653.3 702.7 649.2 701.2 646 699 643.9 695.9 642.9 692.1 642.7 687.9 642.9 683.7 643 680 643.1 676.8 643.3 673.8 643.9 670.9 644.7 668.1 646 665.3 647.8 662.4 650.1 659.4 652.6 656.5 655.3 653.9 658 651.7 660.8 650.3 663.9 649.4 666.9 648.8 669.6 647.9 671.7 646.2 673.1 643.6 674 640.4 674.4 636.8 674.6 633.3 674.4 630 673.8 627.1 672.6 624.2 671.2 621.5 669.9 618.8 669 616.3 668.5 613.9 668.1 611.7 668 609.5 668.2 607.4Z"/><path fill="#10ff10" d="M648 672L648.5 669.3 649.5 666.7 651 664.3 652.8 662.1 655 660 657.5 658 660.2 656.1 663.4 654.4 667.2 652.9 671.7 651.7 677.4 650.9 684.1 650.6 691.3 650.4 698.2 649.9 704.3 649 709.2 647.3 713.5 645 717.4 642.5 721.5 640.3 726 638.5 730.7 637.3 735.3 636.4 740.2 635.8 746.1 635.4 753.4 635.3 762.7 635.4 773.8 635.8 785.6 636.4 797.3 637.2 807.8 638 817.7 638.1 827.6 637.5 836.7 637.4 844.5 639 850 643.5 853.8 652.5 856.4 665.3 857 679.3 855.1 691.9 850 700.7 840.3 704.8 826.5 706 810.6 705.3 794.6 704.1 780.6 703.4 768.7 703.2 757.7 702.7 747.1 702 736.7 701.3 726 700.7 714.6 700.3 702.6 700 690.9 699.6 680.3 699 671.7 698 665.3 696.6 660.6 694.8 657.1 692.8 654.4 690.5 652 688 650 685.1 648.7 681.8 648.1 678.4 647.8 675Z"/><ellipse cx="693" cy="675" rx="38" ry="17.5" fill="#66ff00"/><ellipse cx="843" cy="672" rx="63" ry="21" fill="#66ff00"/><ellipse cx="690" cy="676" rx="22" ry="11.5" fill="#a0ff00"/><ellipse cx="843" cy="672" rx="37" ry="17" fill="#a0ff00"/><ellipse cx="687" cy="676" rx="13" ry="8" fill="#e6ff00"/><ellipse cx="843" cy="671" rx="21" ry="14" fill="#e6ff00"/><ellipse cx="843" cy="670" rx="10" ry="11" fill="#ffe000"/><path fill="#10dd40" d="M549 765L549 763 549.2 761.1 549.8 759.2 551 757.4 553 756 556.1 754.9 560.1 753.9 564.7 753.2 569.5 752.7 574 752.5 578.6 752.5 583.5 752.7 588.4 753.2 592.7 753.9 596 755 598.2 756.5 599.7 758.5 600.5 760.6 600.9 762.9 601 765 600.9 767.1 600.5 769.3 599.7 771.5 598.2 773.4 596 775 592.7 776.1 588.4 777 583.5 777.6 578.6 777.9 574 778 569.5 777.9 564.7 777.6 560.1 777 556.1 776.1 553 775 551 773.4 549.8 771.5 549.2 769.3 549 767Z"/><ellipse cx="574" cy="765" rx="9" ry="6" fill="#10ff10"/><ellipse cx="112" cy="739" rx="18" ry="11" fill="#10ff10"/><ellipse cx="291" cy="745" rx="18" ry="11" fill="#10ff10"/><ellipse cx="112" cy="851" rx="18" ry="10" fill="#0052b0"/><path fill="#10dd40" d="M657 900L657.6 896.7 658.7 893.2 660.3 889.8 662.4 886.6 665 884 668.2 881.9 671.9 880.1 676.1 878.7 680.5 877.7 685 877 689.9 876.7 695.2 876.7 700.6 877.1 705.6 877.9 710 879 713.8 880.5 717.4 882.3 720.4 884.5 722.7 887.1 724 890 724.3 893.6 723.6 897.7 722.2 902.1 720.3 906.4 718 910 715.2 913 711.8 915.8 707.9 918.2 703.9 920.3 700 922 696.1 923.5 692 924.7 688 925.5 683.9 925.8 680 925.5 676.1 924.4 672 922.5 668.2 920.2 664.7 917.6 662 915 660 912.3 658.4 909.4 657.4 906.3 657 903.1Z"/><path fill="#0052b0" d="M673 952L673.4 949.5 674.5 947.1 676 945.1 677.9 943.3 680 942 682.5 941.1 685.5 940.6 688.7 940.5 691.9 940.6 695 941 698.1 941.6 701.4 942.5 704.6 943.6 707.2 945.1 709 947 709.8 949.4 710 952.4 709.5 955.6 708.5 958.9 707 962 704.8 965.2 701.8 968.7 698.5 972 695.1 974.6 692 976 689.2 975.9 686.3 974.8 683.6 972.8 681.1 970.5 679 968 677.1 965.2 675.5 961.9 674.1 958.4 673.3 954.9Z"/><path fill="#0000ff" d="M100 556L109.3 546.6 122.9 545.2 138.1 548.4 151.7 553.1 161 556 164.8 557.1 165.2 558.7 163.6 560.5 161.7 562.7 161 565 161.3 567.7 161.4 570.8 161.9 574 163 577.2 165 580 167.8 582.5 171.2 584.9 175.4 587.1 180.6 589.1 187 591 195 592.7 204.4 594.2 214.7 595.5 225.4 596.7 236 597.6 246.6 598.2 257.7 598.6 268.9 598.8 279.9 598.9 290.6 599 300.3 599 309.2 599 318.2 598.9 328.1 598.8 340 599 355.1 599.5 373 600.2 391.4 601 408.3 601.6 421.7 601.7 430.4 601.2 436 600.3 439.8 599.2 443.6 598.2 449 597.6 456.4 597.4 464.8 597.5 473.4 597.7 481.6 597.9 488.5 598 494.5 597.8 500 597.5 504.6 597.2 508.1 597.1 510 597.5 509.4 598.4 506.4 599.8 502.7 601.4 499.7 603.2 499 605 501.2 606.9 505.3 609 510.4 611.1 515.5 613.2 520 615 523.5 616.6 526.7 618.2 529.8 619.6 533.2 620.8 537 622 541.5 623 546.4 624 551.6 624.8 556.9 625.4 562 626 567.1 626.3 572.4 626.4 577.6 626.5 582.5 626.6 587 627 591 627.7 594.6 628.6 598 629.6 601.1 630.7 604 632 606.8 633.3 609.4 634.7 611.8 636.3 613.9 638 615.7 640 617.2 642.3 618.5 644.9 619.5 647.7 620.2 650.6 620.7 653.6 620.9 656.7 620.8 660.1 620.5 663.5 619.9 666.8 619 670 617.9 673 616.5 675.9 614.8 678.7 612.9 681.3 610.7 683.8 608.3 686.1 605.6 688.2 602.7 690.3 599.4 692.2 595.6 694 591.1 695.8 585.9 697.4 580.4 699 575.1 700.5 570.5 702 566.5 703.5 562.9 705 559.6 706.5 556.6 707.8 553.8 709 551.9 710 550.9 710.8 549.8 711.5 547.8 712.2 544 713 537.8 713.9 529.8 715 520.9 716 511.7 716.9 503 717.4 494.4 717.6 485.5 717.7 476.7 717.5 468.9 717 462.5 716 458.1 714.3 455.3 712 453.3 709.4 451.5 706.9 449 705 446 703.5 443 702.2 439.9 701.3 436.5 700.8 432.6 701 428.3 702.1 423.6 704.2 418.7 706.6 413.4 708.9 408 710.6 402.2 711.7 396.1 712.6 389.8 713.2 383.5 713.6 377.5 714 371.8 714.2 366.3 714.1 360.9 714 355.5 713.9 350 714 344.2 714.4 338.1 714.9 332.1 715.5 326.6 716 322 716 318.5 715.6 315.9 715 313.8 714.1 311.6 713.1 309 712 305.7 710.6 302.2 708.9 298.5 707.2 294.9 705.7 291.5 705 289.2 705.2 288 706.1 286.4 707.3 283.1 708.4 277 709 266.5 709.1 252.5 708.9 237.2 708.5 222.7 708 211 707.6 202.7 707.2 196.5 706.7 191.4 706.1 186.8 705.6 181.7 705 176.6 704.4 171.9 703.8 167.1 703.1 161.9 702.5 155.5 702 147.2 701.6 137.4 701.2 127.3 700.9 118 700.6 111 700.4 106.5 702.6 103.7 707.2 102 710.7 101 709.6 100 700.4 98.3 678.5 96.3 646.1 95.1 610.3 95.9 577.9Z"/><path fill="#0000ff" d="M498 556L489.6 556.9 489.3 558.2 493.8 559.8 499.5 561.4 503 563 504.1 564.6 505 566.2 506.1 567.9 507.7 569.5 510 571 512.9 572.3 516.2 573.6 520.1 574.7 524.8 575.9 530.6 577 538 578.3 547 579.8 556.5 581.3 565.7 582.3 573.6 582.7 580 582.3 585.7 581.3 590.7 579.8 595.4 578.3 600 577 604.5 575.9 608.7 574.7 612.6 573.6 616.4 572.3 620 571 623.6 569.5 627.3 567.9 630.7 566.2 633.6 564.6 636 563 639.9 561.4 645.5 559.8 649.5 558.2 648.7 556.9 640 556 618.6 555.4 586.7 555.2 551.2 555.2 519.3 555.4Z"/><path fill="#0000ff" d="M762 556L757 556.9 757.1 558.1 760.1 559.5 764 561.2 767 563 769.1 565.1 771.6 567.5 774.3 570.1 777.2 572.6 780 575 782.7 577.2 785.5 579.3 788.4 581.3 791.2 583.3 794 585.4 796.6 587.6 798.9 590 801.3 592.3 804.2 594.4 807.8 596 812.6 597.1 818.4 597.8 824.5 598.2 830.3 598.5 835 598.6 838.7 599.2 841.8 600.2 844.4 600.7 846.5 599.9 848 597 850.2 590.7 853.1 581.5 854.8 571.3 853.7 562.2 848 556 834.8 553.3 815.4 552.7 794 553.5 774.8 554.9Z"/><path fill="#0000ff" d="M402.6 773L402.8 769.4 403.5 765.9 404.8 762.5 406.3 759.5 408 757 410 755.1 412.3 753.6 414.8 752.6 417.4 751.7 420 751 422.5 750.4 425 750 427.6 749.9 430.3 749.9 433 750 435.9 750.2 439 750.6 442.1 751.2 445.2 752 448 753 450.7 754.3 453.5 755.8 456 757.6 458.3 759.7 460 762 461.3 764.8 462.2 768 462.7 771.4 462.8 774.8 462.5 778 461.8 781.1 460.6 784.1 459 787.1 457.1 789.8 455 792 452.5 793.8 449.5 795.2 446.4 796.3 443.1 797.1 440 797.8 437 798.3 434 798.6 431 798.6 428 798.4 425 798 421.9 797.4 418.6 796.7 415.5 795.6 412.5 794.1 410 792 407.8 789 405.9 785.2 404.3 781 403.1 776.8Z"/><path fill="#0000ff" d="M666 770L666.2 766.4 667 762.6 668.2 758.7 669.8 755.1 672 752 674.8 749.4 678.2 747.2 682.1 745.3 686.1 743.9 690 743 694 742.7 698.2 742.8 702.4 743.4 706.4 744.5 710 746 713.3 748 716.5 750.6 719.3 753.6 721.5 756.8 723 760 723.6 763.5 723.5 767.2 722.8 771.1 721.6 774.8 720 778 717.8 780.8 714.9 783.4 711.6 785.7 708.2 787.6 705 789 702 789.9 699.1 790.4 696.2 790.5 693.2 790.3 690 790 686.4 789.5 682.4 788.9 678.5 788 674.9 786.7 672 785 669.8 782.7 668.2 779.9 667 776.7 666.2 773.4Z"/><path fill="#0000ff" d="M575 861.5L576.7 861.9 578.4 863 580.1 864.5 581.7 866.3 583 868 584.1 869.8 585.2 871.7 586 873.8 586.5 875.9 586.6 878 586.2 880.1 585.5 882.2 584.4 884.4 583.2 886.3 582 888 580.8 889.5 579.4 890.8 577.9 892 576.4 892.7 575 893 573.6 892.7 572.1 892 570.6 890.8 569.2 889.5 568 888 566.8 886.3 565.6 884.4 564.6 882.2 563.8 880.1 563.5 878 563.6 875.9 564.1 873.8 564.9 871.7 565.9 869.8 567 868 568.3 866.3 569.9 864.5 571.6 863 573.3 861.9Z"/><path fill="#0000ff" d="M858 855.5L858 856.5 857.8 857.4 857.6 858.4 857.3 859.4 856.9 860.3 856.4 861.2 855.8 862 855.1 862.8 854.4 863.6 853.6 864.3 852.8 865 851.8 865.6 850.8 866.2 849.8 866.6 848.7 867 847.6 867.4 846.5 867.6 845.3 867.8 844.2 868 843 868 841.8 868 840.7 867.8 839.5 867.6 838.4 867.4 837.3 867 836.2 866.6 835.2 866.2 834.2 865.6 833.2 865 832.4 864.3 831.6 863.6 830.9 862.8 830.2 862 829.6 861.2 829.1 860.3 828.7 859.4 828.4 858.4 828.2 857.4 828 856.5 828 855.5 828 854.5 828.2 853.6 828.4 852.6 828.7 851.6 829.1 850.7 829.6 849.8 830.2 849 830.9 848.2 831.6 847.4 832.4 846.7 833.2 846 834.2 845.4 835.2 844.8 836.2 844.4 837.3 844 838.4 843.6 839.5 843.4 840.7 843.2 841.8 843 843 843 844.2 843 845.3 843.2 846.5 843.4 847.6 843.6 848.7 844 849.8 844.4 850.8 844.8 851.8 845.4 852.8 846 853.6 846.7 854.4 847.4 855.1 848.2 855.8 849 856.4 849.8 856.9 850.7 857.3 851.6 857.6 852.6 857.8 853.6 858 854.5Z"/><path fill="#0000ff" d="M851 624L851 624.5 850.9 624.9 850.8 625.4 850.6 625.9 850.4 626.3 850.1 626.7 849.8 627.1 849.5 627.5 849.1 627.9 848.7 628.2 848.2 628.6 847.7 628.8 847.2 629.1 846.6 629.3 846.1 629.5 845.5 629.7 844.9 629.8 844.2 629.9 843.6 630 843 630 842.4 630 841.8 629.9 841.1 629.8 840.5 629.7 839.9 629.5 839.4 629.3 838.8 629.1 838.3 628.8 837.8 628.6 837.3 628.2 836.9 627.9 836.5 627.5 836.2 627.1 835.9 626.7 835.6 626.3 835.4 625.9 835.2 625.4 835.1 624.9 835 624.5 835 624 835 623.5 835.1 623.1 835.2 622.6 835.4 622.1 835.6 621.7 835.9 621.3 836.2 620.9 836.5 620.5 836.9 620.1 837.3 619.8 837.8 619.4 838.3 619.2 838.8 618.9 839.4 618.7 839.9 618.5 840.5 618.3 841.1 618.2 841.8 618.1 842.4 618 843 618 843.6 618 844.2 618.1 844.9 618.2 845.5 618.3 846.1 618.5 846.6 618.7 847.2 618.9 847.7 619.2 848.2 619.4 848.7 619.8 849.1 620.1 849.5 620.5 849.8 620.9 850.1 621.3 850.4 621.7 850.6 622.1 850.8 622.6 850.9 623.1 851 623.5Z"/><path fill="#2020ff" d="M100 628L113.6 624 132.8 623.3 155.2 624.3 178.4 625.6 200 626 220.3 625.3 241 624.4 261.4 623.4 281.3 622.6 300 622 317.7 621.8 334.7 622 350.9 622.2 366 622.3 380 622 392.4 621 403.4 619.4 413.5 617.8 423.2 616.8 433 617 442.9 618.9 452.6 622.2 462 626 471.1 629.6 480 632 488.4 633.1 496.5 633.6 504.3 633.5 512.1 633.2 520 633 528 632.6 536.1 631.8 544.1 631.1 552.1 630.7 560 631 568.1 632.1 576.6 633.8 584.8 635.9 592.1 638.4 598 641 602.4 643.9 605.5 647.2 607.7 650.6 609.2 654.3 610 658 610.2 661.9 609.5 666.2 608.2 670.4 606.3 674.5 604 678 602.1 681.1 600.5 683.9 598 686.3 593.2 688.4 585 690 572.5 691.1 556.5 691.6 538.2 691.8 519 691.9 500 692 481 692.2 461.1 692.2 440.7 692.2 420.2 692.2 400 692 380 691.7 360 691.3 340 690.9 320 690.4 300 690 280 689.6 260 689.2 240 688.8 220 688.4 200 688 178.4 688.5 155.2 689.9 132.8 690.8 113.6 690 100 686 92 677.1 88 664.1 88 649.9 92 636.9Z"/><path fill="#4030ff" d="M100 640L104 638.3 109.6 639.3 116.1 642.1 123.1 645.3 130 648 138 650.1 147.4 652.4 156.5 654.9 163.3 657.4 166 660 163.3 662.8 156.5 665.7 147.4 668.7 138 671.5 130 674 123.1 677 116.1 680.5 109.6 683.4 104 684.6 100 683 97.6 676.9 96.4 667.1 96.4 656 97.6 646.2Z"/><path fill="#4030ff" d="M208 656L211 653.1 218.8 650.3 229.2 647.6 240.3 644.8 250 642 258.5 638.6 267.3 634.7 275.9 631 284 628.2 291.5 627 298.1 627.8 303.9 630 309.3 633.2 314.6 636.8 320 640 326.4 643 333.5 646.2 340.2 649.5 345.1 652.8 347 656 345.1 659.2 340.2 662.4 333.5 665.6 326.4 668.8 320 672 314.6 675.7 309.3 679.9 303.9 683.9 298.1 686.8 291.5 688 284 686.8 275.9 683.9 267.3 679.9 258.5 675.7 250 672 240.3 668.8 229.2 665.5 218.8 662.3 211 659.1Z"/><path fill="#4030ff" d="M523.6 657L525.6 653.5 530.6 649.8 537.3 646.1 544.2 642.7 550 640 554.5 637.8 558.8 636 562.9 634.7 566.9 633.8 571 633.5 575.5 633.8 580.2 634.7 584.8 636 588.8 637.8 592 640 594.2 642.7 595.6 646.1 596.5 649.8 596.9 653.5 597 657 596.9 660.4 596.5 663.9 595.6 667.3 594.2 670.4 592 673 588.8 675.3 584.8 677.3 580.2 679 575.5 680.1 571 680.5 566.9 680.1 562.9 679 558.8 677.3 554.5 675.3 550 673 544.2 670.4 537.3 667.3 530.6 663.9 525.6 660.4Z"/><ellipse cx="570.5" cy="648.6" rx="9" ry="8.5" fill="#7055ff"/><ellipse cx="570.5" cy="665" rx="9" ry="8.5" fill="#7055ff"/><path fill="#0052b0" d="M143 599.5L142.9 600.6 142.6 601.8 142.1 602.9 141.5 604 140.6 605 139.6 606.1 138.4 607.1 137.1 608 135.5 608.9 133.9 609.8 132.2 610.5 130.2 611.2 128.2 611.9 126 612.4 123.9 612.9 121.6 613.3 119.2 613.6 116.8 613.8 114.4 614 112 614 109.6 614 107.2 613.8 104.8 613.6 102.4 613.3 100.1 612.9 98 612.4 95.8 611.9 93.8 611.2 91.8 610.5 90.1 609.8 88.5 608.9 86.9 608 85.6 607.1 84.4 606.1 83.4 605 82.5 604 81.9 602.9 81.4 601.8 81.1 600.6 81 599.5 81.1 598.4 81.4 597.2 81.9 596.1 82.5 595 83.4 594 84.4 592.9 85.6 591.9 86.9 591 88.5 590.1 90.1 589.2 91.8 588.5 93.8 587.8 95.8 587.1 98 586.6 100.1 586.1 102.4 585.7 104.8 585.4 107.2 585.2 109.6 585 112 585 114.4 585 116.8 585.2 119.2 585.4 121.6 585.7 123.9 586.1 126 586.6 128.2 587.1 130.2 587.8 132.2 588.5 133.9 589.2 135.5 590.1 137.1 591 138.4 591.9 139.6 592.9 140.6 594 141.5 595 142.1 596.1 142.6 597.2 142.9 598.4Z"/><mask id="bm" maskUnits="userSpaceOnUse" x="0" y="0" width="955" height="1033"><rect x="0" y="0" width="955" height="1033" fill="#fff"/><rect x="303" y="700" width="64" height="28" fill="#000"/></mask><g fill="none" stroke="#e0204a" stroke-width="1.4" mask="url(#bm)"><path d="M161 565L161.5 568.1 161.7 571.2 162.1 574.3 163 577.3 165 580 167.8 582.5 171.2 584.9 175.4 587.1 180.6 589.1 187 591 195 592.7 204.4 594.2 214.7 595.5 225.4 596.7 236 597.6 246.6 598.2 257.7 598.6 268.9 598.8 279.9 598.9 290.6 599 300.3 599 309.2 599 318.2 598.9 328.1 598.8 340 599 355.1 599.5 373 600.2 391.4 601 408.3 601.6 421.7 601.7 430.4 601.2 436 600.3 439.8 599.2 443.6 598.2 449 597.6 456.4 597.4 464.8 597.5 473.4 597.7 481.6 597.9 488.5 598 494.5 597.8 500 597.5 504.6 597.2 508.1 597.1 510 597.5 509.4 598.4 506.4 599.8 502.7 601.4 499.7 603.2 499 605 501.2 606.9 505.3 609 510.4 611.1 515.5 613.2 520 615 523.5 616.6 526.7 618.2 529.8 619.6 533.2 620.8 537 622 541.5 623 546.4 624 551.6 624.8 556.9 625.4 562 626 567.1 626.3 572.4 626.4 577.6 626.5 582.5 626.6 587 627 591 627.7 594.6 628.6 598 629.6 601.1 630.7 604 632 606.8 633.3 609.4 634.7 611.8 636.3 613.9 638 615.7 640 617.2 642.3 618.5 644.9 619.5 647.7 620.2 650.6 620.7 653.6 620.9 656.7 620.8 660.1 620.5 663.5 619.9 666.8 619 670 617.9 673 616.5 675.9 614.8 678.7 612.9 681.3 610.7 683.8 608.3 686.1 605.6 688.2 602.7 690.3 599.4 692.2 595.6 694 591.1 695.8 585.9 697.4 580.4 699 575.1 700.5 570.5 702 566.5 703.5 562.9 705 559.6 706.5 556.6 707.8 553.8 709 551.9 710 550.9 710.8 549.8 711.5 547.8 712.2 544 713 537.8 713.9 529.8 715 520.9 716 511.7 716.9 503 717.4 494.4 717.6 485.5 717.7 476.7 717.5 468.9 717 462.5 716 458.1 714.3 455.3 712 453.3 709.4 451.5 706.9 449 705 446 703.5 443 702.2 439.9 701.3 436.5 700.8 432.6 701 428.3 702.1 423.6 704.2 418.7 706.6 413.4 708.9 408 710.6 402.2 711.7 396.1 712.6 389.8 713.2 383.5 713.6 377.5 714 371.8 714.2 366.3 714.1 360.9 714 355.5 713.9 350 714 344.2 714.4 338.1 714.9 332.1 715.5 326.6 716 322 716 318.5 715.6 315.9 715 313.8 714.1 311.6 713.1 309 712 305.7 710.6 302.2 708.9 298.5 707.2 294.9 705.7 291.5 705 289.2 705.2 288 706.1 286.4 707.3 283.1 708.4 277 709 266.5 709.1 252.5 708.9 237.2 708.5 222.7 708 211 707.6 202.7 707.2 196.5 706.7 191.4 706.1 186.8 705.6 181.7 705 176.6 704.4 171.9 703.8 167.1 703.1 161.9 702.5 155.5 702 147.8 701.6 139 701.3 129.7 701 120.2 700.7 111 700.4"/><path d="M503 563L504.2 564.6 505.1 566.3 506.2 567.9 507.7 569.5 510 571 512.9 572.3 516.2 573.6 520.1 574.7 524.8 575.9 530.6 577 538 578.3 547 579.8 556.5 581.3 565.7 582.3 573.6 582.7 580 582.3 585.7 581.3 590.7 579.8 595.4 578.3 600 577 604.5 575.9 608.7 574.7 612.6 573.6 616.4 572.3 620 571 623.5 569.5 626.7 567.9 629.8 566.3 632.9 564.6 636 563"/><path d="M767 563L769.6 565.4 772.2 567.9 774.7 570.3 777.3 572.7 780 575 782.7 577.2 785.5 579.3 788.4 581.3 791.2 583.3 794 585.4 796.6 587.6 798.9 590 801.3 592.3 804.2 594.4 807.8 596 812.4 597 817.7 597.6 823.5 597.9 829.3 598.2 835 598.6"/><path d="M402.6 773L402.8 769.4 403.5 765.9 404.8 762.5 406.3 759.5 408 757 410 755.1 412.3 753.6 414.8 752.6 417.4 751.7 420 751 422.5 750.4 425 750 427.6 749.9 430.3 749.9 433 750 435.9 750.2 439 750.6 442.1 751.2 445.2 752 448 753 450.7 754.3 453.5 755.8 456 757.6 458.3 759.7 460 762 461.3 764.8 462.2 768 462.7 771.4 462.8 774.8 462.5 778 461.8 781.1 460.6 784.1 459 787.1 457.1 789.8 455 792 452.5 793.8 449.5 795.2 446.4 796.3 443.1 797.1 440 797.8 437 798.3 434 798.6 431 798.6 428 798.4 425 798 421.9 797.4 418.6 796.7 415.5 795.6 412.5 794.1 410 792 407.8 789 405.9 785.2 404.3 781 403.1 776.8Z"/><path d="M666 770L666.2 766.4 667 762.6 668.2 758.7 669.8 755.1 672 752 674.8 749.4 678.2 747.2 682.1 745.3 686.1 743.9 690 743 694 742.7 698.2 742.8 702.4 743.4 706.4 744.5 710 746 713.3 748 716.5 750.6 719.3 753.6 721.5 756.8 723 760 723.6 763.5 723.5 767.2 722.8 771.1 721.6 774.8 720 778 717.8 780.8 714.9 783.4 711.6 785.7 708.2 787.6 705 789 702 789.9 699.1 790.4 696.2 790.5 693.2 790.3 690 790 686.4 789.5 682.4 788.9 678.5 788 674.9 786.7 672 785 669.8 782.7 668.2 779.9 667 776.7 666.2 773.4Z"/><path d="M575 861.5L576.7 861.9 578.4 863 580.1 864.5 581.7 866.3 583 868 584.1 869.8 585.2 871.7 586 873.8 586.5 875.9 586.6 878 586.2 880.1 585.5 882.2 584.4 884.4 583.2 886.3 582 888 580.8 889.5 579.4 890.8 577.9 892 576.4 892.7 575 893 573.6 892.7 572.1 892 570.6 890.8 569.2 889.5 568 888 566.8 886.3 565.6 884.4 564.6 882.2 563.8 880.1 563.5 878 563.6 875.9 564.1 873.8 564.9 871.7 565.9 869.8 567 868 568.3 866.3 569.9 864.5 571.6 863 573.3 861.9Z"/><path d="M858 855.5L858 856.5 857.8 857.4 857.6 858.4 857.3 859.4 856.9 860.3 856.4 861.2 855.8 862 855.1 862.8 854.4 863.6 853.6 864.3 852.8 865 851.8 865.6 850.8 866.2 849.8 866.6 848.7 867 847.6 867.4 846.5 867.6 845.3 867.8 844.2 868 843 868 841.8 868 840.7 867.8 839.5 867.6 838.4 867.4 837.3 867 836.2 866.6 835.2 866.2 834.2 865.6 833.2 865 832.4 864.3 831.6 863.6 830.9 862.8 830.2 862 829.6 861.2 829.1 860.3 828.7 859.4 828.4 858.4 828.2 857.4 828 856.5 828 855.5 828 854.5 828.2 853.6 828.4 852.6 828.7 851.6 829.1 850.7 829.6 849.8 830.2 849 830.9 848.2 831.6 847.4 832.4 846.7 833.2 846 834.2 845.4 835.2 844.8 836.2 844.4 837.3 844 838.4 843.6 839.5 843.4 840.7 843.2 841.8 843 843 843 844.2 843 845.3 843.2 846.5 843.4 847.6 843.6 848.7 844 849.8 844.4 850.8 844.8 851.8 845.4 852.8 846 853.6 846.7 854.4 847.4 855.1 848.2 855.8 849 856.4 849.8 856.9 850.7 857.3 851.6 857.6 852.6 857.8 853.6 858 854.5Z"/><path d="M851 624L851 624.5 850.9 624.9 850.8 625.4 850.6 625.9 850.4 626.3 850.1 626.7 849.8 627.1 849.5 627.5 849.1 627.9 848.7 628.2 848.2 628.6 847.7 628.8 847.2 629.1 846.6 629.3 846.1 629.5 845.5 629.7 844.9 629.8 844.2 629.9 843.6 630 843 630 842.4 630 841.8 629.9 841.1 629.8 840.5 629.7 839.9 629.5 839.4 629.3 838.8 629.1 838.3 628.8 837.8 628.6 837.3 628.2 836.9 627.9 836.5 627.5 836.2 627.1 835.9 626.7 835.6 626.3 835.4 625.9 835.2 625.4 835.1 624.9 835 624.5 835 624 835 623.5 835.1 623.1 835.2 622.6 835.4 622.1 835.6 621.7 835.9 621.3 836.2 620.9 836.5 620.5 836.9 620.1 837.3 619.8 837.8 619.4 838.3 619.2 838.8 618.9 839.4 618.7 839.9 618.5 840.5 618.3 841.1 618.2 841.8 618.1 842.4 618 843 618 843.6 618 844.2 618.1 844.9 618.2 845.5 618.3 846.1 618.5 846.6 618.7 847.2 618.9 847.7 619.2 848.2 619.4 848.7 619.8 849.1 620.1 849.5 620.5 849.8 620.9 850.1 621.3 850.4 621.7 850.6 622.1 850.8 622.6 850.9 623.1 851 623.5Z"/><path d="M143 599.5L142.9 600.6 142.6 601.8 142.1 602.9 141.5 604 140.6 605 139.6 606.1 138.4 607.1 137.1 608 135.5 608.9 133.9 609.8 132.2 610.5 130.2 611.2 128.2 611.9 126 612.4 123.9 612.9 121.6 613.3 119.2 613.6 116.8 613.8 114.4 614 112 614 109.6 614 107.2 613.8 104.8 613.6 102.4 613.3 100.1 612.9 98 612.4 95.8 611.9 93.8 611.2 91.8 610.5 90.1 609.8 88.5 608.9 86.9 608 85.6 607.1 84.4 606.1 83.4 605 82.5 604 81.9 602.9 81.4 601.8 81.1 600.6 81 599.5 81.1 598.4 81.4 597.2 81.9 596.1 82.5 595 83.4 594 84.4 592.9 85.6 591.9 86.9 591 88.5 590.1 90.1 589.2 91.8 588.5 93.8 587.8 95.8 587.1 98 586.6 100.1 586.1 102.4 585.7 104.8 585.4 107.2 585.2 109.6 585 112 585 114.4 585 116.8 585.2 119.2 585.4 121.6 585.7 123.9 586.1 126 586.6 128.2 587.1 130.2 587.8 132.2 588.5 133.9 589.2 135.5 590.1 137.1 591 138.4 591.9 139.6 592.9 140.6 594 141.5 595 142.1 596.1 142.6 597.2 142.9 598.4Z"/><path d="M298 594L298 594.4 297.9 594.8 297.8 595.2 297.6 595.5 297.4 595.9 297.2 596.2 296.9 596.5 296.5 596.8 296.2 597.1 295.8 597.3 295.4 597.5 294.9 597.7 294.5 597.8 294 597.9 293.5 598 293 598 292.5 598 292 597.9 291.5 597.8 291.1 597.7 290.6 597.5 290.2 597.3 289.8 597.1 289.5 596.8 289.1 596.5 288.8 596.2 288.6 595.9 288.4 595.5 288.2 595.2 288.1 594.8 288 594.4 288 594 288 593.6 288.1 593.2 288.2 592.8 288.4 592.5 288.6 592.1 288.8 591.8 289.1 591.5 289.5 591.2 289.8 590.9 290.2 590.7 290.6 590.5 291.1 590.3 291.5 590.2 292 590.1 292.5 590 293 590 293.5 590 294 590.1 294.5 590.2 294.9 590.3 295.4 590.5 295.8 590.7 296.2 590.9 296.5 591.2 296.9 591.5 297.2 591.8 297.4 592.1 297.6 592.5 297.8 592.8 297.9 593.2 298 593.6Z"/><path d="M297 707L297 707.4 296.9 707.8 296.8 708.2 296.7 708.5 296.5 708.9 296.3 709.2 296.1 709.5 295.8 709.8 295.5 710.1 295.2 710.3 294.9 710.5 294.5 710.7 294.2 710.8 293.8 710.9 293.4 711 293 711 292.6 711 292.2 710.9 291.8 710.8 291.5 710.7 291.1 710.5 290.8 710.3 290.5 710.1 290.2 709.8 289.9 709.5 289.7 709.2 289.5 708.9 289.3 708.5 289.2 708.2 289.1 707.8 289 707.4 289 707 289 706.6 289.1 706.2 289.2 705.8 289.3 705.5 289.5 705.1 289.7 704.8 289.9 704.5 290.2 704.2 290.5 703.9 290.8 703.7 291.1 703.5 291.5 703.3 291.8 703.2 292.2 703.1 292.6 703 293 703 293.4 703 293.8 703.1 294.2 703.2 294.5 703.3 294.9 703.5 295.2 703.7 295.5 703.9 295.8 704.2 296.1 704.5 296.3 704.8 296.5 705.1 296.7 705.5 296.8 705.8 296.9 706.2 297 706.6Z"/></g><text x="335" y="714" text-anchor="middle" dominant-baseline="central" style="font-family:'Liberation Serif',serif;font-size:26px" fill="#e82020">-1.3</text></g>
<rect x="118" y="975" width="240" height="38" fill="#fff" fill-opacity="0.62"/>
<g style="font-family:'Liberation Serif',serif;font-size:32px" fill="#111"><text x="125" y="1004.5">Temperature (ºC)</text></g>
<g fill="#000"><circle cx="110.0" cy="574.4" r="5"/><circle cx="110.0" cy="619.9" r="5"/><circle cx="110.0" cy="654.1" r="5"/><circle cx="110.0" cy="733.8" r="5"/><circle cx="110.0" cy="790.8" r="5"/><circle cx="110.0" cy="904.6" r="5"/><circle cx="110.0" cy="1018.5" r="5"/><circle cx="293.0" cy="574.4" r="5"/><circle cx="293.0" cy="619.9" r="5"/><circle cx="293.0" cy="667.8" r="5"/><circle cx="293.0" cy="733.8" r="5"/><circle cx="293.0" cy="790.8" r="5"/><circle cx="293.0" cy="904.6" r="5"/><circle cx="293.0" cy="1018.5" r="5"/><circle cx="433.5" cy="574.4" r="5"/><circle cx="433.5" cy="643.9" r="5"/><circle cx="433.5" cy="676.9" r="5"/><circle cx="433.5" cy="733.8" r="5"/><circle cx="433.5" cy="790.8" r="5"/><circle cx="433.5" cy="904.6" r="5"/><circle cx="433.5" cy="1018.5" r="5"/><circle cx="574.0" cy="574.4" r="5"/><circle cx="574.0" cy="619.9" r="5"/><circle cx="574.0" cy="676.9" r="5"/><circle cx="574.0" cy="733.8" r="5"/><circle cx="574.0" cy="790.8" r="5"/><circle cx="574.0" cy="904.6" r="5"/><circle cx="574.0" cy="1018.5" r="5"/><circle cx="686.5" cy="574.4" r="5"/><circle cx="686.5" cy="634.7" r="5"/><circle cx="686.5" cy="676.9" r="5"/><circle cx="686.5" cy="733.8" r="5"/><circle cx="686.5" cy="790.8" r="5"/><circle cx="686.5" cy="904.6" r="5"/><circle cx="686.5" cy="1018.5" r="5"/><circle cx="841.0" cy="574.4" r="5"/><circle cx="841.0" cy="645.0" r="5"/><circle cx="841.0" cy="676.9" r="5"/><circle cx="841.0" cy="733.8" r="5"/><circle cx="841.0" cy="790.8" r="5"/><circle cx="841.0" cy="904.6" r="5"/><circle cx="841.0" cy="1018.5" r="5"/></g>
<rect x="110" y="563" width="731" height="455.5" fill="none" stroke="#000" stroke-width="3.6"/><line x1="98.5" y1="563.0" x2="110" y2="563.0" stroke="#000" stroke-width="3.2"/><line x1="98.5" y1="676.9" x2="110" y2="676.9" stroke="#000" stroke-width="3.2"/><line x1="98.5" y1="790.8" x2="110" y2="790.8" stroke="#000" stroke-width="3.2"/><line x1="98.5" y1="904.6" x2="110" y2="904.6" stroke="#000" stroke-width="3.2"/><line x1="98.5" y1="1018.5" x2="110" y2="1018.5" stroke="#000" stroke-width="3.2"/>
<g style="font-family:'Liberation Serif',serif;font-size:32px" fill="#151515" stroke="#fff" stroke-width="0.45">
<text x="88.5" y="51.5" text-anchor="end" dominant-baseline="central">0</text><text x="88.5" y="166.0" text-anchor="end" dominant-baseline="central">50</text><text x="88.5" y="280.5" text-anchor="end" dominant-baseline="central">100</text><text x="88.5" y="395.0" text-anchor="end" dominant-baseline="central">150</text><text x="88.5" y="509.5" text-anchor="end" dominant-baseline="central">200</text>
<text x="88.5" y="562.5" text-anchor="end" dominant-baseline="central">0</text><text x="88.5" y="676.4" text-anchor="end" dominant-baseline="central">50</text><text x="88.5" y="790.2" text-anchor="end" dominant-baseline="central">100</text><text x="88.5" y="904.1" text-anchor="end" dominant-baseline="central">150</text><text x="88.5" y="1018.0" text-anchor="end" dominant-baseline="central">200</text>
</g>
<g style="font-family:'Liberation Serif',serif;font-size:32.5px" fill="#151515" stroke="#fff" stroke-width="0.45">
<text transform="translate(27,278) rotate(-90)" text-anchor="middle">Depth (m)</text>
<text transform="translate(27,790) rotate(-90)" text-anchor="middle">Depth (m)</text>
</g>
<rect x="850" y="56.00" width="28" height="41.45" fill="#ff0a0a"/><rect x="850" y="97.15" width="28" height="41.45" fill="#ff2a12"/><rect x="850" y="138.29" width="28" height="41.45" fill="#ff4a12"/><rect x="850" y="179.44" width="28" height="41.45" fill="#ff7a0a"/><rect x="850" y="220.58" width="28" height="41.45" fill="#ffc000"/><rect x="850" y="261.73" width="28" height="41.45" fill="#ffff00"/><rect x="850" y="302.87" width="28" height="41.45" fill="#d0ff00"/><rect x="850" y="344.02" width="28" height="41.45" fill="#80ff10"/><rect x="850" y="385.16" width="28" height="41.45" fill="#00ff00"/><rect x="850" y="426.31" width="28" height="41.45" fill="#0000f0"/><rect x="850" y="467.45" width="28" height="41.45" fill="#9966ff"/><line x1="850" x2="878" y1="97.15" y2="97.15" stroke="#200" stroke-width="1.6"/><line x1="850" x2="878" y1="138.29" y2="138.29" stroke="#200" stroke-width="1.6"/><line x1="850" x2="878" y1="179.44" y2="179.44" stroke="#200" stroke-width="1.6"/><line x1="850" x2="878" y1="220.58" y2="220.58" stroke="#200" stroke-width="1.6"/><line x1="850" x2="878" y1="261.73" y2="261.73" stroke="#200" stroke-width="1.6"/><line x1="850" x2="878" y1="302.87" y2="302.87" stroke="#200" stroke-width="1.6"/><line x1="850" x2="878" y1="344.02" y2="344.02" stroke="#200" stroke-width="1.6"/><line x1="850" x2="878" y1="385.16" y2="385.16" stroke="#200" stroke-width="1.6"/><line x1="850" x2="878" y1="426.31" y2="426.31" stroke="#200" stroke-width="1.6"/><line x1="850" x2="878" y1="467.45" y2="467.45" stroke="#200" stroke-width="1.6"/><rect x="850" y="56" width="28" height="452.6" fill="none" stroke="#201010" stroke-width="1.4"/>
<rect x="853.6" y="553.20" width="29.4" height="23.46" fill="#ff0000"/><rect x="853.6" y="576.36" width="29.4" height="23.46" fill="#ff1a00"/><rect x="853.6" y="599.52" width="29.4" height="23.46" fill="#ff3300"/><rect x="853.6" y="622.68" width="29.4" height="23.46" fill="#ff5000"/><rect x="853.6" y="645.84" width="29.4" height="23.46" fill="#ff7000"/><rect x="853.6" y="669.00" width="29.4" height="23.46" fill="#ff9000"/><rect x="853.6" y="692.16" width="29.4" height="23.46" fill="#ffb400"/><rect x="853.6" y="715.32" width="29.4" height="23.46" fill="#ffe000"/><rect x="853.6" y="738.48" width="29.4" height="23.46" fill="#e6ff00"/><rect x="853.6" y="761.64" width="29.4" height="23.46" fill="#a0ff00"/><rect x="853.6" y="784.80" width="29.4" height="23.46" fill="#66ff00"/><rect x="853.6" y="807.96" width="29.4" height="23.46" fill="#10ff10"/><rect x="853.6" y="831.12" width="29.4" height="23.46" fill="#10dd40"/><rect x="853.6" y="854.28" width="29.4" height="23.46" fill="#00946a"/><rect x="853.6" y="877.44" width="29.4" height="23.46" fill="#0052b0"/><rect x="853.6" y="900.60" width="29.4" height="23.46" fill="#0000ff"/><rect x="853.6" y="923.76" width="29.4" height="23.46" fill="#2020ff"/><rect x="853.6" y="946.92" width="29.4" height="23.46" fill="#4030ff"/><rect x="853.6" y="970.08" width="29.4" height="23.46" fill="#6048ff"/><rect x="853.6" y="993.24" width="29.4" height="23.46" fill="#9966ff"/><line x1="853.6" x2="883" y1="576.36" y2="576.36" stroke="#200" stroke-width="1.6"/><line x1="853.6" x2="883" y1="599.52" y2="599.52" stroke="#200" stroke-width="1.6"/><line x1="853.6" x2="883" y1="622.68" y2="622.68" stroke="#200" stroke-width="1.6"/><line x1="853.6" x2="883" y1="645.84" y2="645.84" stroke="#200" stroke-width="1.6"/><line x1="853.6" x2="883" y1="669.00" y2="669.00" stroke="#200" stroke-width="1.6"/><line x1="853.6" x2="883" y1="692.16" y2="692.16" stroke="#200" stroke-width="1.6"/><line x1="853.6" x2="883" y1="715.32" y2="715.32" stroke="#200" stroke-width="1.6"/><line x1="853.6" x2="883" y1="738.48" y2="738.48" stroke="#200" stroke-width="1.6"/><line x1="853.6" x2="883" y1="761.64" y2="761.64" stroke="#200" stroke-width="1.6"/><line x1="853.6" x2="883" y1="784.80" y2="784.80" stroke="#200" stroke-width="1.6"/><line x1="853.6" x2="883" y1="807.96" y2="807.96" stroke="#200" stroke-width="1.6"/><line x1="853.6" x2="883" y1="831.12" y2="831.12" stroke="#200" stroke-width="1.6"/><line x1="853.6" x2="883" y1="854.28" y2="854.28" stroke="#200" stroke-width="1.6"/><line x1="853.6" x2="883" y1="877.44" y2="877.44" stroke="#200" stroke-width="1.6"/><line x1="853.6" x2="883" y1="900.60" y2="900.60" stroke="#200" stroke-width="1.6"/><line x1="853.6" x2="883" y1="923.76" y2="923.76" stroke="#200" stroke-width="1.6"/><line x1="853.6" x2="883" y1="946.92" y2="946.92" stroke="#200" stroke-width="1.6"/><line x1="853.6" x2="883" y1="970.08" y2="970.08" stroke="#200" stroke-width="1.6"/><line x1="853.6" x2="883" y1="993.24" y2="993.24" stroke="#200" stroke-width="1.6"/><rect x="853.6" y="553.2" width="29.4" height="463.2" fill="none" stroke="#201010" stroke-width="1.4"/>
<g style="font-family:'Liberation Serif',serif;font-size:31px" fill="#151515" stroke="#fff" stroke-width="0.45">
<text x="886.5" y="508.6" dominant-baseline="central">0</text>
<text x="886.5" y="426.3" dominant-baseline="central">20</text>
<text x="886.5" y="344.0" dominant-baseline="central">40</text>
<text x="886.5" y="261.7" dominant-baseline="central">60</text>
<text x="886.5" y="179.4" dominant-baseline="central">80</text>
<text x="886.5" y="97.1" dominant-baseline="central">100</text>
</g>
<g style="font-family:'Liberation Serif',serif;font-size:37px" fill="#151515" stroke="#fff" stroke-width="0.45">
<text x="891" y="599.0" dominant-baseline="central">0</text>
<text x="891" y="645.3" dominant-baseline="central">-0.2</text>
<text x="891" y="691.7" dominant-baseline="central">-0.4</text>
<text x="891" y="738.0" dominant-baseline="central">-0.6</text>
<text x="891" y="784.3" dominant-baseline="central">-0.8</text>
<text x="891" y="830.6" dominant-baseline="central">-1</text>
<text x="891" y="876.9" dominant-baseline="central">-1.2</text>
<text x="891" y="923.3" dominant-baseline="central">-1.4</text>
<text x="891" y="969.6" dominant-baseline="central">-1.6</text>
<text x="891" y="1015.9" dominant-baseline="central">-1.8</text>
</g>
</svg>
</body></html>
